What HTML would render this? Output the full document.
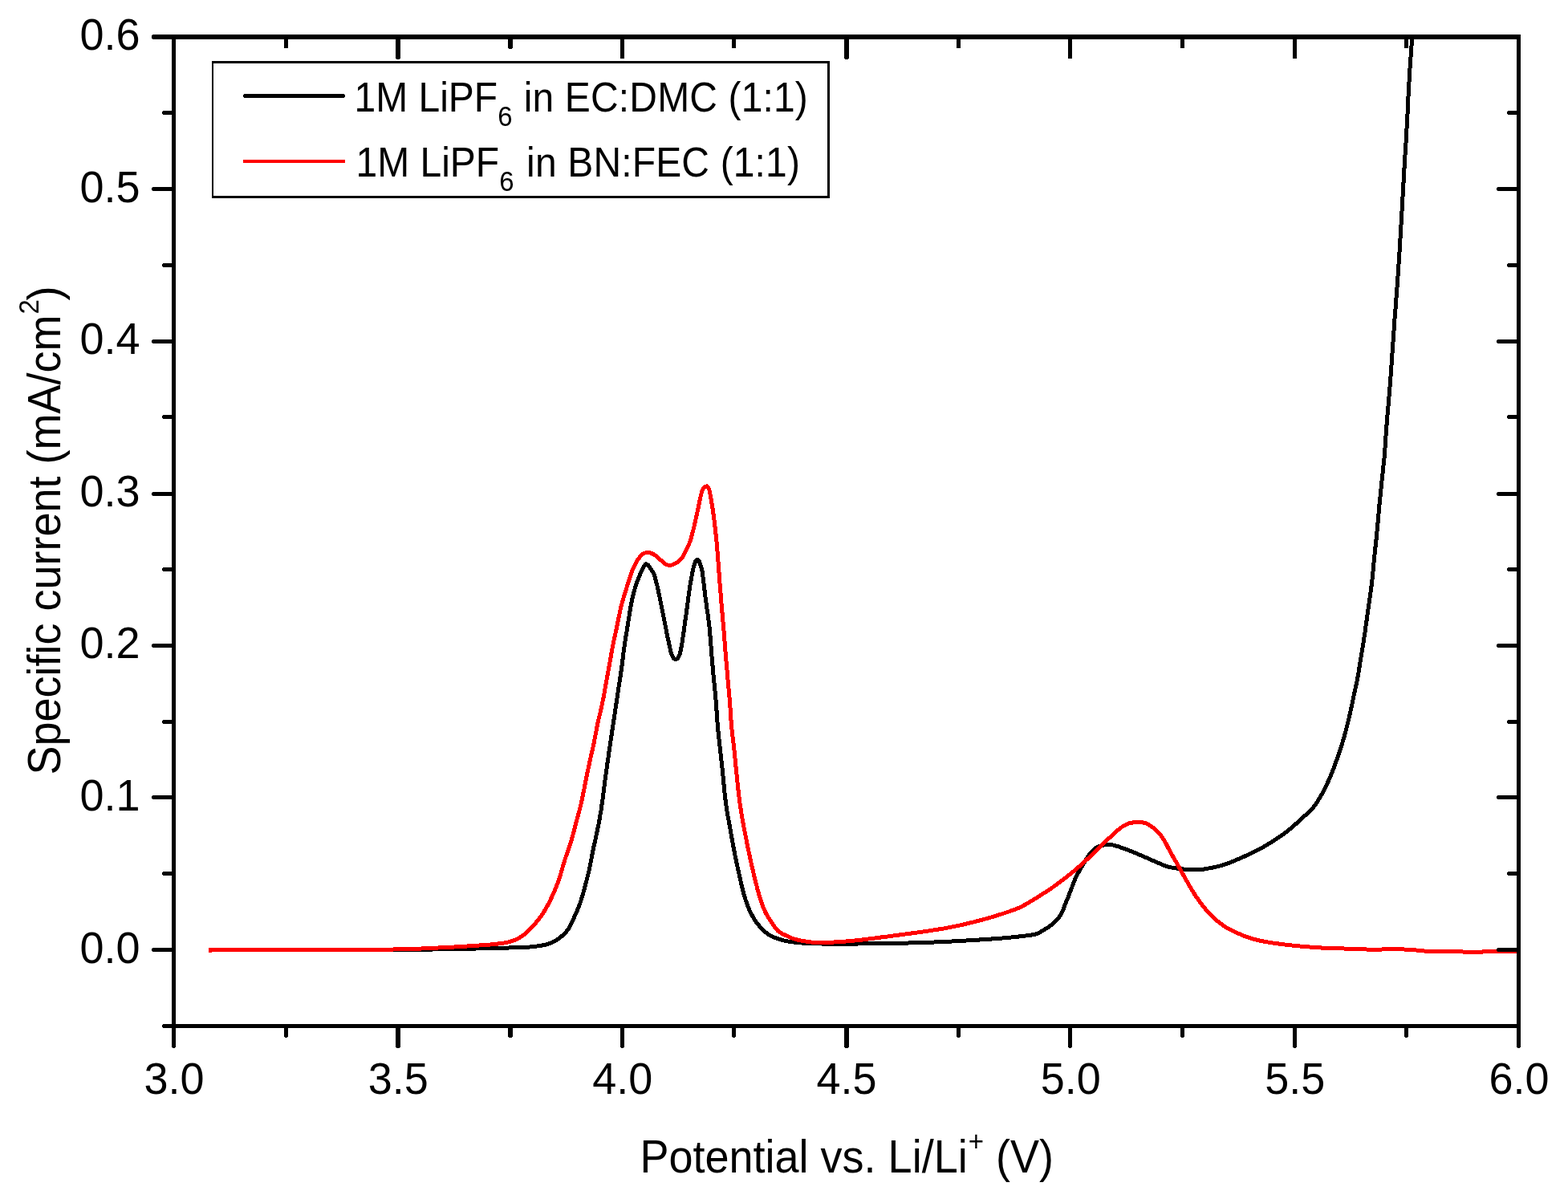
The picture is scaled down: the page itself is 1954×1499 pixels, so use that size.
<!DOCTYPE html>
<html lang="en">
<head>
<meta charset="utf-8">
<title>Specific current vs. potential</title>
<style>
html,body{margin:0;padding:0;background:#fff;}
body{width:1954px;height:1499px;overflow:hidden;}
svg{display:block;}
</style>
</head>
<body>
<svg width="1954" height="1499" viewBox="0 0 1954 1499">
<rect x="0" y="0" width="1954" height="1499" fill="#fff"/>
<clipPath id="plotclip"><rect x="216.5" y="46.0" width="1676.0" height="1232.5"/></clipPath>
<g clip-path="url(#plotclip)" fill="none" stroke-linejoin="round" stroke-linecap="butt" stroke-width="5.0" shape-rendering="crispEdges">
<path d="M260.0,1183.5C261.0,1183.5 264.3,1183.5 265.9,1183.5C267.5,1183.5 268.2,1183.5 269.5,1183.5C270.8,1183.5 272.2,1183.5 273.6,1183.5C275.0,1183.5 276.5,1183.5 278.0,1183.5C279.5,1183.5 281.0,1183.5 282.5,1183.5C284.0,1183.5 285.5,1183.5 287.0,1183.5C288.5,1183.5 290.0,1183.5 291.5,1183.5C293.0,1183.5 294.5,1183.5 296.0,1183.5C297.5,1183.5 299.0,1183.5 300.5,1183.5C302.0,1183.5 303.5,1183.5 305.0,1183.5C306.5,1183.5 308.0,1183.5 309.5,1183.5C311.0,1183.5 312.5,1183.5 314.0,1183.5C315.5,1183.5 317.0,1183.5 318.5,1183.5C320.0,1183.5 321.5,1183.5 323.0,1183.5C324.5,1183.5 326.0,1183.5 327.5,1183.5C329.0,1183.5 330.5,1183.5 332.0,1183.5C333.5,1183.5 335.0,1183.5 336.5,1183.5C338.0,1183.5 339.5,1183.5 341.0,1183.5C342.5,1183.5 344.0,1183.5 345.5,1183.5C347.0,1183.5 348.5,1183.5 350.0,1183.5C351.5,1183.5 353.0,1183.5 354.5,1183.5C356.0,1183.5 357.5,1183.5 359.0,1183.5C360.5,1183.5 362.0,1183.5 363.5,1183.5C365.0,1183.5 366.5,1183.5 368.0,1183.5C369.5,1183.5 371.0,1183.5 372.5,1183.5C374.0,1183.5 375.5,1183.5 377.0,1183.5C378.5,1183.5 380.0,1183.5 381.5,1183.5C383.0,1183.5 384.5,1183.5 386.0,1183.5C387.5,1183.5 389.0,1183.5 390.5,1183.5C392.0,1183.5 393.5,1183.5 395.0,1183.5C396.5,1183.5 398.0,1183.5 399.5,1183.5C401.0,1183.5 402.5,1183.5 404.0,1183.5C405.5,1183.5 407.0,1183.5 408.5,1183.5C410.0,1183.5 411.5,1183.5 413.0,1183.5C414.5,1183.5 416.0,1183.5 417.5,1183.5C419.0,1183.5 420.5,1183.5 422.0,1183.5C423.5,1183.5 425.0,1183.5 426.5,1183.5C428.0,1183.5 429.5,1183.5 431.0,1183.5C432.5,1183.5 434.0,1183.4 435.5,1183.4C437.0,1183.4 438.5,1183.4 440.0,1183.4C441.5,1183.4 443.0,1183.4 444.5,1183.4C446.0,1183.4 447.5,1183.4 449.0,1183.4C450.5,1183.4 452.0,1183.4 453.5,1183.4C455.0,1183.4 456.5,1183.4 458.0,1183.4C459.5,1183.4 461.0,1183.4 462.5,1183.4C464.0,1183.4 465.5,1183.4 467.0,1183.4C468.5,1183.4 470.0,1183.4 471.5,1183.4C473.0,1183.4 474.5,1183.4 476.0,1183.4C477.5,1183.4 479.0,1183.4 480.5,1183.4C482.0,1183.4 483.5,1183.4 485.0,1183.4C486.5,1183.4 488.0,1183.4 489.5,1183.4C491.0,1183.4 492.5,1183.4 494.0,1183.4C495.5,1183.4 497.0,1183.4 498.5,1183.4C500.0,1183.4 501.5,1183.4 503.0,1183.4C504.5,1183.4 506.0,1183.3 507.5,1183.3C509.0,1183.3 510.5,1183.3 512.0,1183.3C513.5,1183.3 515.0,1183.3 516.5,1183.3C518.0,1183.3 519.5,1183.2 521.0,1183.2C522.5,1183.2 524.0,1183.2 525.5,1183.2C527.0,1183.2 528.5,1183.1 530.0,1183.1C531.5,1183.1 533.0,1183.1 534.5,1183.1C536.0,1183.1 537.5,1183.0 539.0,1183.0C540.5,1183.0 542.0,1182.9 543.5,1182.9C545.0,1182.9 546.5,1182.9 548.0,1182.9C549.5,1182.9 551.0,1182.8 552.5,1182.8C554.0,1182.8 555.5,1182.7 557.0,1182.7C558.5,1182.7 560.0,1182.7 561.5,1182.7C563.0,1182.7 564.5,1182.6 566.0,1182.6C567.5,1182.6 569.0,1182.5 570.5,1182.5C572.0,1182.5 573.5,1182.4 575.0,1182.4C576.5,1182.4 578.0,1182.3 579.5,1182.3C581.0,1182.3 582.5,1182.2 584.0,1182.2C585.5,1182.2 587.0,1182.1 588.5,1182.1C590.0,1182.1 591.5,1182.0 593.0,1182.0C594.5,1182.0 596.0,1182.0 597.5,1181.9C599.0,1181.9 600.5,1181.8 602.0,1181.7C603.5,1181.7 605.0,1181.6 606.5,1181.6C608.0,1181.6 609.5,1181.5 611.0,1181.5C612.5,1181.5 614.0,1181.4 615.5,1181.4C617.0,1181.4 618.5,1181.3 620.0,1181.3C621.5,1181.3 623.0,1181.2 624.5,1181.2C626.0,1181.2 627.5,1181.1 629.0,1181.1C630.5,1181.1 632.0,1181.0 633.5,1181.0C635.0,1181.0 636.5,1180.9 638.0,1180.9C639.5,1180.9 641.0,1180.8 642.5,1180.8C644.0,1180.8 645.5,1180.6 647.0,1180.6C648.5,1180.5 650.0,1180.5 651.5,1180.5C653.0,1180.5 654.5,1180.4 656.0,1180.3C657.5,1180.2 659.0,1180.1 660.5,1180.0C662.0,1179.9 663.4,1179.8 664.9,1179.6C666.4,1179.4 667.9,1179.2 669.4,1179.0C670.9,1178.8 672.3,1178.5 673.8,1178.3C675.3,1178.0 676.8,1177.8 678.3,1177.5C679.8,1177.2 681.2,1176.8 682.6,1176.4C684.0,1176.0 685.5,1175.5 686.9,1174.9C688.3,1174.3 689.6,1173.7 690.9,1173.0C692.2,1172.3 693.5,1171.4 694.7,1170.6C696.0,1169.8 697.2,1168.9 698.4,1167.9C699.6,1167.0 700.6,1165.9 701.7,1164.9C702.8,1163.9 704.0,1162.8 705.0,1161.7C706.0,1160.6 706.9,1159.4 707.8,1158.2C708.6,1157.0 709.4,1155.8 710.1,1154.5C710.8,1153.2 711.5,1151.8 712.2,1150.5C712.9,1149.2 713.5,1147.8 714.1,1146.4C714.7,1145.0 715.3,1143.6 715.9,1142.2C716.5,1140.8 717.2,1139.5 717.8,1138.1C718.4,1136.7 718.9,1135.4 719.5,1134.0C720.1,1132.6 720.7,1131.2 721.2,1129.8C721.8,1128.4 722.3,1127.0 722.8,1125.6C723.3,1124.2 723.8,1122.7 724.2,1121.3C724.7,1119.9 725.1,1118.4 725.5,1117.0C725.9,1115.6 726.4,1114.1 726.8,1112.7C727.2,1111.3 727.6,1109.9 728.0,1108.4C728.4,1107.0 728.8,1105.5 729.2,1104.0C729.6,1102.5 729.9,1101.2 730.3,1099.7C730.7,1098.2 731.0,1096.8 731.4,1095.3C731.8,1093.8 732.1,1092.4 732.5,1090.9C732.9,1089.5 733.2,1088.0 733.6,1086.6C734.0,1085.1 734.3,1083.7 734.6,1082.2C734.9,1080.7 735.2,1079.3 735.5,1077.8C735.8,1076.3 736.0,1074.9 736.3,1073.4C736.6,1071.9 736.9,1070.4 737.2,1068.9C737.5,1067.4 737.7,1066.0 738.0,1064.5C738.3,1063.0 738.6,1061.6 738.9,1060.1C739.2,1058.6 739.5,1057.2 739.8,1055.7C740.1,1054.2 740.5,1052.8 740.8,1051.3C741.1,1049.8 741.5,1048.4 741.8,1046.9C742.1,1045.4 742.4,1044.0 742.7,1042.5C743.0,1041.0 743.4,1039.6 743.7,1038.1C744.0,1036.6 744.3,1035.2 744.6,1033.7C744.9,1032.2 745.2,1030.8 745.5,1029.3C745.8,1027.8 746.1,1026.4 746.4,1024.9C746.7,1023.4 747.0,1022.0 747.2,1020.5C747.5,1019.0 747.6,1017.5 747.9,1016.0C748.1,1014.5 748.5,1013.1 748.7,1011.6C749.0,1010.1 749.2,1008.6 749.4,1007.1C749.6,1005.6 749.8,1004.2 750.0,1002.7C750.2,1001.2 750.5,999.7 750.7,998.2C750.9,996.7 751.1,995.3 751.3,993.8C751.5,992.3 751.6,990.8 751.8,989.3C752.0,987.8 752.2,986.3 752.4,984.8C752.6,983.3 752.8,981.9 753.0,980.4C753.2,978.9 753.3,977.4 753.5,975.9C753.7,974.4 753.9,973.0 754.1,971.5C754.3,970.0 754.5,968.5 754.7,967.0C754.9,965.5 755.1,964.0 755.3,962.5C755.5,961.0 755.8,959.6 756.0,958.1C756.2,956.6 756.4,955.1 756.6,953.6C756.8,952.1 757.0,950.7 757.2,949.2C757.4,947.7 757.7,946.2 757.9,944.7C758.1,943.2 758.3,941.8 758.5,940.3C758.7,938.8 758.9,937.3 759.1,935.8C759.3,934.3 759.6,932.9 759.8,931.4C760.0,929.9 760.2,928.4 760.4,926.9C760.6,925.4 760.9,924.0 761.1,922.5C761.3,921.0 761.6,919.5 761.8,918.0C762.0,916.5 762.2,915.1 762.4,913.6C762.6,912.1 762.9,910.6 763.1,909.1C763.3,907.6 763.6,906.2 763.8,904.7C764.0,903.2 764.3,901.7 764.5,900.2C764.7,898.7 764.9,897.3 765.1,895.8C765.3,894.3 765.6,892.8 765.8,891.3C766.0,889.8 766.3,888.4 766.5,886.9C766.7,885.4 766.9,883.9 767.1,882.4C767.3,880.9 767.6,879.5 767.8,878.0C768.0,876.5 768.3,875.0 768.5,873.5C768.7,872.0 768.9,870.6 769.1,869.1C769.3,867.6 769.6,866.1 769.8,864.6C770.0,863.1 770.2,861.6 770.4,860.1C770.6,858.6 770.9,857.2 771.1,855.7C771.3,854.2 771.6,852.7 771.8,851.2C772.0,849.7 772.3,848.3 772.5,846.8C772.7,845.3 773.0,843.9 773.2,842.4C773.4,840.9 773.6,839.4 773.8,837.9C774.0,836.4 774.3,834.9 774.5,833.4C774.7,831.9 774.9,830.5 775.1,829.0C775.3,827.5 775.4,826.0 775.6,824.5C775.8,823.0 776.0,821.6 776.2,820.1C776.4,818.6 776.5,817.1 776.7,815.6C776.9,814.1 777.1,812.6 777.3,811.1C777.5,809.6 777.7,808.2 777.9,806.7C778.1,805.2 778.3,803.7 778.5,802.2C778.7,800.7 779.0,799.3 779.2,797.8C779.4,796.3 779.6,794.8 779.9,793.3C780.1,791.8 780.5,790.4 780.7,788.9C781.0,787.4 781.2,786.0 781.4,784.5C781.6,783.0 781.9,781.5 782.1,780.0C782.3,778.5 782.6,777.1 782.8,775.6C783.0,774.1 783.3,772.6 783.5,771.1C783.7,769.6 784.0,768.2 784.2,766.7C784.4,765.2 784.7,763.7 784.9,762.2C785.1,760.7 785.4,759.3 785.6,757.8C785.9,756.3 786.1,754.9 786.4,753.4C786.7,751.9 787.0,750.4 787.3,748.9C787.6,747.4 787.9,746.0 788.3,744.5C788.6,743.0 789.0,741.7 789.4,740.2C789.8,738.8 790.1,737.2 790.5,735.8C790.9,734.3 791.4,732.9 791.8,731.5C792.2,730.1 792.6,728.6 793.1,727.2C793.6,725.8 794.2,724.4 794.7,723.0C795.2,721.6 795.7,720.3 796.3,718.9C796.9,717.5 797.5,716.1 798.1,714.7C798.7,713.3 799.4,712.0 800.0,710.6C800.6,709.2 801.2,707.9 802.0,706.6C802.8,705.3 803.6,703.3 804.6,702.9C805.6,702.5 806.8,703.4 807.8,704.2C808.8,705.1 809.4,706.8 810.3,708.0C811.1,709.2 812.1,710.4 812.9,711.7C813.7,713.0 814.3,714.2 814.9,715.6C815.5,717.0 816.0,718.5 816.4,719.9C816.8,721.3 817.1,722.8 817.5,724.3C817.9,725.8 818.2,727.1 818.6,728.6C819.0,730.1 819.4,731.5 819.7,733.0C820.0,734.5 820.3,735.9 820.6,737.4C820.9,738.9 821.3,740.3 821.6,741.8C821.9,743.3 822.2,744.7 822.5,746.2C822.8,747.7 823.0,749.1 823.3,750.6C823.6,752.1 823.9,753.5 824.2,755.0C824.5,756.5 824.8,758.0 825.1,759.5C825.4,761.0 825.7,762.4 826.0,763.9C826.3,765.4 826.6,766.8 826.9,768.3C827.2,769.8 827.4,771.2 827.7,772.7C828.0,774.2 828.3,775.6 828.6,777.1C828.9,778.6 829.2,780.0 829.5,781.5C829.8,783.0 830.1,784.4 830.4,785.9C830.7,787.4 830.9,788.9 831.2,790.4C831.5,791.9 831.8,793.3 832.1,794.8C832.4,796.3 832.8,797.7 833.1,799.2C833.4,800.7 833.7,802.1 834.0,803.6C834.3,805.1 834.7,806.5 835.0,808.0C835.3,809.5 835.6,811.0 836.0,812.4C836.4,813.8 836.9,815.2 837.5,816.6C838.1,818.0 838.8,819.7 839.8,820.5C840.8,821.3 842.2,821.8 843.3,821.3C844.3,820.8 845.4,819.1 846.1,817.8C846.8,816.5 847.2,815.0 847.6,813.5C848.0,812.0 848.3,810.6 848.6,809.1C848.9,807.6 849.0,806.2 849.3,804.7C849.5,803.2 849.9,801.7 850.1,800.2C850.4,798.7 850.6,797.3 850.8,795.8C851.0,794.3 851.2,792.8 851.4,791.3C851.6,789.8 851.9,788.4 852.1,786.9C852.3,785.4 852.5,783.9 852.7,782.4C852.9,780.9 853.1,779.5 853.3,778.0C853.5,776.5 853.7,775.0 853.9,773.5C854.1,772.0 854.3,770.5 854.5,769.0C854.7,767.5 855.0,766.1 855.2,764.6C855.4,763.1 855.6,761.6 855.8,760.1C856.0,758.6 856.2,757.2 856.4,755.7C856.6,754.2 856.8,752.7 857.0,751.2C857.2,749.7 857.4,748.2 857.6,746.7C857.8,745.2 857.9,743.8 858.1,742.3C858.3,740.8 858.5,739.3 858.7,737.8C858.9,736.3 859.2,734.9 859.4,733.4C859.6,731.9 859.8,730.4 860.0,728.9C860.2,727.4 860.5,726.0 860.8,724.5C861.1,723.0 861.3,721.6 861.6,720.1C861.9,718.6 862.1,717.2 862.4,715.7C862.7,714.2 863.0,712.8 863.3,711.3C863.6,709.8 863.9,708.4 864.3,706.9C864.7,705.4 865.1,703.9 865.6,702.5C866.1,701.1 866.6,699.1 867.4,698.4C868.2,697.7 869.7,697.5 870.5,698.1C871.3,698.8 871.8,700.9 872.3,702.3C872.8,703.7 873.4,705.1 873.8,706.5C874.2,707.9 874.6,709.4 874.9,710.9C875.2,712.4 875.4,713.8 875.6,715.3C875.8,716.8 875.9,718.3 876.1,719.8C876.3,721.3 876.4,722.7 876.6,724.2C876.8,725.7 877.0,727.2 877.2,728.7C877.4,730.2 877.5,731.7 877.7,733.2C877.9,734.7 878.1,736.1 878.3,737.6C878.5,739.1 878.6,740.6 878.8,742.1C879.0,743.6 879.2,745.1 879.4,746.6C879.6,748.1 879.8,749.5 880.0,751.0C880.2,752.5 880.4,754.0 880.6,755.5C880.8,757.0 881.0,758.5 881.2,760.0C881.4,761.5 881.7,762.9 881.9,764.4C882.1,765.9 882.3,767.4 882.5,768.9C882.7,770.4 882.9,771.8 883.1,773.3C883.3,774.8 883.4,776.3 883.6,777.8C883.8,779.3 884.0,780.8 884.1,782.3C884.2,783.8 884.4,785.2 884.5,786.7C884.6,788.2 884.8,789.7 884.9,791.2C885.0,792.7 885.2,794.2 885.3,795.7C885.4,797.2 885.5,798.7 885.6,800.2C885.7,801.7 885.9,803.2 886.0,804.7C886.1,806.2 886.2,807.7 886.3,809.2C886.4,810.7 886.6,812.2 886.7,813.7C886.8,815.2 886.9,816.6 887.0,818.1C887.1,819.6 887.3,821.1 887.4,822.6C887.5,824.1 887.7,825.6 887.8,827.1C887.9,828.6 888.1,830.1 888.2,831.6C888.3,833.1 888.5,834.6 888.6,836.1C888.7,837.6 888.9,839.1 889.0,840.6C889.1,842.1 889.4,843.5 889.5,845.0C889.6,846.5 889.8,848.0 889.9,849.5C890.0,851.0 890.2,852.5 890.4,854.0C890.5,855.5 890.7,857.0 890.8,858.5C890.9,860.0 891.1,861.4 891.2,862.9C891.3,864.4 891.5,865.9 891.6,867.4C891.7,868.9 891.9,870.4 892.0,871.9C892.1,873.4 892.3,874.9 892.4,876.4C892.5,877.9 892.6,879.4 892.7,880.9C892.8,882.4 892.9,883.9 893.0,885.4C893.1,886.9 893.2,888.4 893.3,889.9C893.4,891.4 893.5,892.9 893.6,894.4C893.7,895.9 893.8,897.3 893.9,898.8C894.0,900.3 894.2,901.8 894.3,903.3C894.4,904.8 894.5,906.3 894.6,907.8C894.7,909.3 895.0,910.8 895.1,912.3C895.2,913.8 895.4,915.3 895.5,916.8C895.6,918.3 895.8,919.7 896.0,921.2C896.2,922.7 896.3,924.2 896.5,925.7C896.7,927.2 896.8,928.7 897.0,930.2C897.2,931.7 897.3,933.2 897.5,934.7C897.7,936.2 897.8,937.6 898.0,939.1C898.2,940.6 898.3,942.1 898.5,943.6C898.7,945.1 898.8,946.6 899.0,948.1C899.2,949.6 899.3,951.0 899.5,952.5C899.7,954.0 899.9,955.5 900.0,957.0C900.1,958.5 900.2,960.0 900.4,961.5C900.5,963.0 900.8,964.5 900.9,966.0C901.0,967.5 901.2,969.0 901.3,970.5C901.4,972.0 901.6,973.4 901.7,974.9C901.9,976.4 902.1,977.9 902.2,979.4C902.4,980.9 902.5,982.4 902.6,983.9C902.8,985.4 902.9,986.9 903.1,988.4C903.3,989.9 903.4,991.3 903.6,992.8C903.8,994.3 903.9,995.8 904.1,997.3C904.3,998.8 904.5,1000.3 904.7,1001.8C904.9,1003.3 905.1,1004.7 905.3,1006.2C905.5,1007.7 905.8,1009.2 906.0,1010.7C906.2,1012.2 906.5,1013.6 906.8,1015.1C907.0,1016.6 907.2,1018.0 907.5,1019.5C907.8,1021.0 908.1,1022.5 908.4,1024.0C908.7,1025.5 908.9,1026.9 909.2,1028.4C909.5,1029.9 909.8,1031.3 910.0,1032.8C910.2,1034.3 910.5,1035.8 910.7,1037.3C911.0,1038.8 911.2,1040.2 911.5,1041.7C911.8,1043.2 912.0,1044.6 912.3,1046.1C912.6,1047.6 912.8,1049.0 913.1,1050.5C913.4,1052.0 913.6,1053.5 913.9,1055.0C914.2,1056.5 914.5,1057.9 914.8,1059.4C915.1,1060.9 915.3,1062.3 915.6,1063.8C915.9,1065.3 916.2,1066.7 916.5,1068.2C916.8,1069.7 917.1,1071.1 917.4,1072.6C917.7,1074.1 918.0,1075.5 918.3,1077.0C918.6,1078.5 919.0,1079.9 919.3,1081.4C919.6,1082.9 920.0,1084.3 920.3,1085.8C920.6,1087.3 920.9,1088.7 921.2,1090.2C921.5,1091.7 921.9,1093.1 922.2,1094.6C922.5,1096.1 922.9,1097.5 923.2,1099.0C923.5,1100.5 923.9,1101.9 924.2,1103.4C924.6,1104.9 924.9,1106.3 925.3,1107.8C925.7,1109.2 926.0,1110.7 926.4,1112.1C926.8,1113.5 927.2,1115.0 927.6,1116.4C928.0,1117.8 928.4,1119.3 928.9,1120.7C929.4,1122.1 929.9,1123.6 930.4,1125.0C930.9,1126.4 931.5,1127.8 932.0,1129.2C932.5,1130.6 933.1,1132.0 933.7,1133.4C934.3,1134.8 934.9,1136.1 935.6,1137.4C936.3,1138.7 937.0,1140.1 937.7,1141.4C938.4,1142.7 939.2,1144.0 940.0,1145.3C940.8,1146.6 941.6,1147.8 942.5,1149.0C943.4,1150.2 944.3,1151.4 945.2,1152.6C946.1,1153.8 947.1,1155.0 948.1,1156.1C949.1,1157.2 950.2,1158.3 951.3,1159.3C952.4,1160.3 953.5,1161.3 954.7,1162.2C955.9,1163.1 957.1,1164.0 958.4,1164.8C959.7,1165.6 960.9,1166.3 962.3,1167.0C963.6,1167.7 965.1,1168.2 966.5,1168.7C967.9,1169.2 969.3,1169.7 970.7,1170.2C972.1,1170.7 973.5,1171.1 975.0,1171.5C976.5,1171.9 977.9,1172.2 979.4,1172.5C980.9,1172.8 982.3,1173.1 983.8,1173.3C985.3,1173.5 986.8,1173.7 988.3,1173.9C989.8,1174.1 991.3,1174.2 992.8,1174.4C994.3,1174.6 995.7,1174.8 997.2,1174.9C998.7,1175.0 1000.2,1175.1 1001.7,1175.2C1003.2,1175.3 1004.7,1175.4 1006.2,1175.5C1007.7,1175.6 1009.2,1175.7 1010.7,1175.7C1012.2,1175.8 1013.7,1175.8 1015.2,1175.8C1016.7,1175.8 1018.2,1175.9 1019.7,1175.9C1021.2,1175.9 1022.7,1176.0 1024.2,1176.0C1025.7,1176.0 1027.2,1176.0 1028.7,1176.0C1030.2,1176.0 1031.7,1176.0 1033.2,1176.0C1034.7,1176.0 1036.2,1176.0 1037.7,1176.0C1039.2,1176.0 1040.7,1176.0 1042.2,1176.0C1043.7,1176.0 1045.2,1176.0 1046.7,1176.0C1048.2,1176.0 1049.7,1176.0 1051.2,1176.0C1052.7,1176.0 1054.2,1176.0 1055.7,1176.0C1057.2,1176.0 1058.7,1176.0 1060.2,1176.0C1061.7,1176.0 1063.2,1176.0 1064.7,1176.0C1066.2,1176.0 1067.7,1176.0 1069.2,1176.0C1070.7,1176.0 1072.2,1175.9 1073.7,1175.9C1075.2,1175.9 1076.7,1175.9 1078.2,1175.9C1079.7,1175.9 1081.2,1175.8 1082.7,1175.8C1084.2,1175.8 1085.7,1175.8 1087.2,1175.8C1088.7,1175.8 1090.2,1175.7 1091.7,1175.7C1093.2,1175.7 1094.7,1175.7 1096.2,1175.7C1097.7,1175.7 1099.2,1175.6 1100.7,1175.6C1102.2,1175.6 1103.7,1175.5 1105.2,1175.5C1106.7,1175.5 1108.2,1175.4 1109.7,1175.4C1111.2,1175.4 1112.7,1175.4 1114.2,1175.4C1115.7,1175.4 1117.2,1175.3 1118.7,1175.3C1120.2,1175.3 1121.7,1175.2 1123.2,1175.2C1124.7,1175.2 1126.2,1175.1 1127.7,1175.1C1129.2,1175.1 1130.7,1175.0 1132.2,1175.0C1133.7,1175.0 1135.2,1175.0 1136.7,1174.9C1138.2,1174.9 1139.7,1174.8 1141.2,1174.7C1142.7,1174.7 1144.2,1174.6 1145.7,1174.6C1147.2,1174.6 1148.7,1174.5 1150.2,1174.5C1151.7,1174.5 1153.2,1174.3 1154.7,1174.3C1156.2,1174.2 1157.7,1174.2 1159.2,1174.2C1160.7,1174.2 1162.2,1174.1 1163.7,1174.0C1165.2,1173.9 1166.7,1173.9 1168.2,1173.8C1169.7,1173.7 1171.2,1173.7 1172.7,1173.6C1174.2,1173.5 1175.7,1173.5 1177.2,1173.4C1178.7,1173.3 1180.2,1173.3 1181.7,1173.2C1183.2,1173.1 1184.7,1173.1 1186.2,1173.0C1187.7,1172.9 1189.2,1172.9 1190.7,1172.8C1192.2,1172.7 1193.7,1172.6 1195.2,1172.5C1196.7,1172.4 1198.2,1172.4 1199.7,1172.3C1201.2,1172.2 1202.6,1172.1 1204.1,1172.0C1205.6,1171.9 1207.1,1171.9 1208.6,1171.8C1210.1,1171.7 1211.6,1171.6 1213.1,1171.5C1214.6,1171.4 1216.1,1171.3 1217.6,1171.2C1219.1,1171.1 1220.6,1171.0 1222.1,1170.9C1223.6,1170.8 1225.1,1170.8 1226.6,1170.7C1228.1,1170.6 1229.6,1170.5 1231.1,1170.4C1232.6,1170.3 1234.1,1170.1 1235.6,1170.0C1237.1,1169.9 1238.6,1169.8 1240.1,1169.7C1241.6,1169.6 1243.1,1169.5 1244.6,1169.4C1246.1,1169.3 1247.5,1169.1 1249.0,1169.0C1250.5,1168.9 1252.0,1168.7 1253.5,1168.6C1255.0,1168.5 1256.5,1168.3 1258.0,1168.2C1259.5,1168.1 1261.0,1168.0 1262.5,1167.8C1264.0,1167.6 1265.5,1167.5 1267.0,1167.3C1268.5,1167.1 1269.9,1167.0 1271.4,1166.8C1272.9,1166.6 1274.4,1166.5 1275.9,1166.3C1277.4,1166.1 1278.9,1165.9 1280.4,1165.7C1281.9,1165.5 1283.4,1165.3 1284.9,1165.1C1286.4,1164.9 1287.9,1164.7 1289.3,1164.3C1290.7,1163.9 1292.1,1163.5 1293.5,1162.9C1294.9,1162.3 1296.2,1161.4 1297.5,1160.7C1298.8,1160.0 1300.1,1159.3 1301.4,1158.5C1302.7,1157.7 1304.0,1156.9 1305.2,1156.1C1306.5,1155.3 1307.7,1154.4 1308.9,1153.5C1310.1,1152.6 1311.2,1151.7 1312.3,1150.7C1313.4,1149.7 1314.5,1148.6 1315.6,1147.5C1316.6,1146.4 1317.6,1145.4 1318.6,1144.2C1319.6,1143.0 1320.6,1141.8 1321.4,1140.6C1322.2,1139.3 1322.9,1138.0 1323.5,1136.7C1324.1,1135.4 1324.7,1134.0 1325.2,1132.6C1325.8,1131.2 1326.2,1129.7 1326.8,1128.3C1327.3,1126.9 1327.9,1125.6 1328.5,1124.2C1329.1,1122.8 1329.6,1121.4 1330.2,1120.0C1330.8,1118.6 1331.4,1117.2 1331.9,1115.8C1332.5,1114.4 1333.0,1113.0 1333.5,1111.6C1334.0,1110.2 1334.6,1108.8 1335.1,1107.4C1335.6,1106.0 1336.2,1104.6 1336.7,1103.2C1337.2,1101.8 1337.8,1100.4 1338.3,1099.0C1338.8,1097.6 1339.4,1096.2 1340.0,1094.8C1340.6,1093.4 1341.3,1092.1 1342.0,1090.8C1342.7,1089.5 1343.4,1088.1 1344.1,1086.8C1344.8,1085.5 1345.5,1084.2 1346.3,1082.9C1347.0,1081.6 1347.8,1080.3 1348.6,1079.0C1349.4,1077.7 1350.1,1076.4 1350.9,1075.1C1351.7,1073.8 1352.5,1072.5 1353.3,1071.3C1354.1,1070.0 1354.9,1068.8 1355.7,1067.6C1356.5,1066.3 1357.4,1065.0 1358.3,1063.8C1359.2,1062.6 1360.2,1061.5 1361.2,1060.4C1362.2,1059.3 1363.3,1058.3 1364.5,1057.4C1365.7,1056.5 1367.0,1055.7 1368.4,1055.1C1369.8,1054.5 1371.2,1054.0 1372.7,1053.6C1374.2,1053.2 1375.6,1053.1 1377.1,1052.9C1378.6,1052.7 1380.1,1052.5 1381.6,1052.5C1383.1,1052.5 1384.5,1052.6 1386.0,1052.8C1387.5,1053.0 1389.0,1053.5 1390.4,1053.9C1391.9,1054.3 1393.3,1054.7 1394.7,1055.2C1396.1,1055.7 1397.6,1056.3 1399.0,1056.8C1400.4,1057.3 1401.8,1057.8 1403.2,1058.3C1404.6,1058.8 1406.0,1059.4 1407.4,1059.9C1408.8,1060.5 1410.2,1061.0 1411.6,1061.6C1413.0,1062.2 1414.4,1062.7 1415.8,1063.3C1417.2,1063.9 1418.5,1064.4 1419.9,1065.0C1421.3,1065.6 1422.6,1066.2 1424.0,1066.8C1425.4,1067.4 1426.8,1068.0 1428.2,1068.6C1429.6,1069.2 1430.9,1069.8 1432.3,1070.4C1433.7,1071.0 1435.0,1071.6 1436.4,1072.2C1437.8,1072.8 1439.1,1073.4 1440.5,1074.0C1441.9,1074.6 1443.3,1075.2 1444.7,1075.8C1446.1,1076.4 1447.4,1077.0 1448.8,1077.6C1450.2,1078.2 1451.6,1078.8 1453.0,1079.3C1454.4,1079.8 1455.8,1080.2 1457.3,1080.5C1458.8,1080.8 1460.2,1081.0 1461.7,1081.3C1463.2,1081.5 1464.7,1081.8 1466.2,1082.0C1467.7,1082.2 1469.1,1082.4 1470.6,1082.6C1472.1,1082.8 1473.6,1082.9 1475.1,1083.0C1476.6,1083.1 1478.1,1083.3 1479.6,1083.4C1481.1,1083.5 1482.6,1083.5 1484.1,1083.6C1485.6,1083.6 1487.1,1083.7 1488.6,1083.7C1490.1,1083.7 1491.6,1083.7 1493.1,1083.7C1494.6,1083.7 1496.0,1083.7 1497.5,1083.5C1499.0,1083.3 1500.5,1083.0 1502.0,1082.7C1503.5,1082.4 1504.9,1082.2 1506.4,1081.9C1507.9,1081.6 1509.3,1081.4 1510.8,1081.1C1512.3,1080.8 1513.7,1080.5 1515.2,1080.2C1516.7,1079.9 1518.1,1079.5 1519.6,1079.1C1521.0,1078.7 1522.5,1078.2 1523.9,1077.8C1525.3,1077.3 1526.8,1076.9 1528.2,1076.4C1529.6,1075.9 1531.0,1075.4 1532.4,1074.9C1533.8,1074.4 1535.2,1073.8 1536.6,1073.2C1538.0,1072.6 1539.3,1072.1 1540.7,1071.5C1542.1,1070.9 1543.5,1070.4 1544.9,1069.8C1546.3,1069.2 1547.6,1068.5 1549.0,1067.9C1550.4,1067.3 1551.7,1066.7 1553.1,1066.1C1554.5,1065.5 1555.8,1064.8 1557.2,1064.1C1558.6,1063.4 1559.9,1062.8 1561.2,1062.2C1562.5,1061.6 1564.0,1060.9 1565.3,1060.2C1566.6,1059.5 1567.9,1058.8 1569.2,1058.1C1570.5,1057.4 1571.9,1056.7 1573.2,1056.0C1574.5,1055.3 1575.8,1054.5 1577.1,1053.8C1578.4,1053.0 1579.7,1052.3 1581.0,1051.5C1582.3,1050.7 1583.5,1049.9 1584.8,1049.1C1586.1,1048.3 1587.3,1047.5 1588.6,1046.7C1589.9,1045.9 1591.2,1045.0 1592.4,1044.2C1593.7,1043.4 1594.9,1042.6 1596.1,1041.7C1597.3,1040.8 1598.5,1040.0 1599.7,1039.1C1600.9,1038.2 1602.1,1037.3 1603.3,1036.4C1604.5,1035.5 1605.6,1034.5 1606.8,1033.6C1608.0,1032.6 1609.1,1031.7 1610.3,1030.7C1611.5,1029.7 1612.6,1028.7 1613.7,1027.7C1614.8,1026.7 1615.9,1025.7 1617.0,1024.7C1618.1,1023.7 1619.3,1022.7 1620.4,1021.7C1621.5,1020.7 1622.6,1019.6 1623.7,1018.6C1624.8,1017.6 1625.9,1016.6 1627.0,1015.6C1628.1,1014.6 1629.2,1013.6 1630.3,1012.6C1631.4,1011.6 1632.5,1010.6 1633.6,1009.5C1634.6,1008.4 1635.6,1007.4 1636.6,1006.2C1637.5,1005.0 1638.4,1003.7 1639.3,1002.5C1640.2,1001.3 1641.0,1000.0 1641.8,998.8C1642.6,997.5 1643.3,996.3 1644.1,995.0C1644.9,993.7 1645.7,992.4 1646.4,991.1C1647.2,989.8 1647.9,988.5 1648.6,987.2C1649.3,985.9 1649.9,984.6 1650.6,983.2C1651.3,981.9 1651.9,980.5 1652.6,979.1C1653.2,977.8 1653.9,976.5 1654.5,975.1C1655.1,973.8 1655.8,972.4 1656.4,971.0C1657.0,969.6 1657.5,968.2 1658.1,966.8C1658.7,965.4 1659.2,964.1 1659.8,962.7C1660.4,961.3 1661.0,959.9 1661.5,958.5C1662.0,957.1 1662.6,955.7 1663.1,954.3C1663.6,952.9 1664.1,951.4 1664.6,950.0C1665.1,948.6 1665.7,947.2 1666.2,945.8C1666.7,944.4 1667.1,943.0 1667.6,941.6C1668.1,940.2 1668.6,938.7 1669.1,937.3C1669.6,935.9 1670.0,934.4 1670.5,933.0C1671.0,931.6 1671.5,930.1 1671.9,928.7C1672.4,927.3 1672.8,925.8 1673.2,924.4C1673.6,923.0 1674.1,921.5 1674.5,920.1C1674.9,918.7 1675.3,917.2 1675.7,915.8C1676.1,914.3 1676.5,912.8 1676.9,911.4C1677.3,910.0 1677.6,908.5 1678.0,907.1C1678.4,905.7 1678.7,904.2 1679.1,902.7C1679.5,901.2 1679.8,899.9 1680.2,898.4C1680.6,896.9 1680.9,895.5 1681.2,894.0C1681.5,892.5 1681.9,891.1 1682.2,889.6C1682.5,888.1 1682.9,886.7 1683.2,885.2C1683.5,883.7 1683.8,882.3 1684.1,880.8C1684.4,879.3 1684.8,877.9 1685.1,876.4C1685.4,874.9 1685.7,873.5 1686.0,872.0C1686.3,870.5 1686.6,869.1 1686.9,867.6C1687.2,866.1 1687.6,864.7 1687.9,863.2C1688.2,861.7 1688.6,860.3 1688.9,858.8C1689.2,857.3 1689.5,855.9 1689.8,854.4C1690.1,852.9 1690.5,851.5 1690.8,850.0C1691.1,848.5 1691.3,847.1 1691.6,845.6C1691.9,844.1 1692.1,842.7 1692.4,841.2C1692.7,839.7 1693.0,838.2 1693.2,836.7C1693.5,835.2 1693.7,833.8 1693.9,832.3C1694.1,830.8 1694.4,829.3 1694.6,827.8C1694.8,826.3 1695.1,824.9 1695.3,823.4C1695.5,821.9 1695.8,820.5 1696.0,819.0C1696.2,817.5 1696.5,816.0 1696.8,814.5C1697.0,813.0 1697.3,811.6 1697.5,810.1C1697.7,808.6 1698.0,807.1 1698.2,805.6C1698.5,804.1 1698.8,802.7 1699.0,801.2C1699.2,799.7 1699.4,798.3 1699.6,796.8C1699.8,795.3 1700.1,793.8 1700.3,792.3C1700.5,790.8 1700.8,789.4 1701.0,787.9C1701.2,786.4 1701.4,784.9 1701.6,783.4C1701.8,781.9 1702.0,780.4 1702.2,778.9C1702.4,777.4 1702.7,776.0 1702.9,774.5C1703.1,773.0 1703.3,771.5 1703.5,770.0C1703.7,768.5 1703.9,767.1 1704.1,765.6C1704.3,764.1 1704.5,762.6 1704.7,761.1C1704.9,759.6 1705.2,758.2 1705.4,756.7C1705.6,755.2 1705.8,753.7 1706.0,752.2C1706.2,750.7 1706.4,749.3 1706.6,747.8C1706.8,746.3 1707.0,744.8 1707.2,743.3C1707.4,741.8 1707.7,740.3 1707.9,738.8C1708.1,737.3 1708.3,735.9 1708.5,734.4C1708.7,732.9 1708.9,731.4 1709.1,729.9C1709.3,728.4 1709.4,727.0 1709.6,725.5C1709.8,724.0 1709.9,722.5 1710.1,721.0C1710.3,719.5 1710.4,718.0 1710.6,716.5C1710.8,715.0 1710.9,713.5 1711.0,712.0C1711.1,710.5 1711.3,709.1 1711.4,707.6C1711.5,706.1 1711.7,704.6 1711.8,703.1C1711.9,701.6 1712.1,700.1 1712.3,698.6C1712.5,697.1 1712.5,695.6 1712.7,694.1C1712.9,692.6 1713.0,691.1 1713.2,689.6C1713.4,688.1 1713.6,686.7 1713.7,685.2C1713.8,683.7 1713.9,682.2 1714.1,680.7C1714.2,679.2 1714.4,677.7 1714.6,676.2C1714.8,674.7 1714.9,673.2 1715.1,671.7C1715.2,670.2 1715.4,668.8 1715.5,667.3C1715.6,665.8 1715.8,664.3 1715.9,662.8C1716.1,661.3 1716.2,659.8 1716.4,658.3C1716.6,656.8 1716.7,655.3 1716.8,653.8C1716.9,652.3 1717.1,650.8 1717.2,649.3C1717.3,647.8 1717.5,646.4 1717.6,644.9C1717.7,643.4 1717.9,641.9 1718.0,640.4C1718.1,638.9 1718.3,637.4 1718.4,635.9C1718.5,634.4 1718.7,632.9 1718.8,631.4C1718.9,629.9 1719.0,628.4 1719.2,626.9C1719.4,625.4 1719.6,624.0 1719.7,622.5C1719.8,621.0 1720.0,619.5 1720.1,618.0C1720.2,616.5 1720.3,615.0 1720.5,613.5C1720.7,612.0 1720.8,610.5 1721.0,609.0C1721.2,607.5 1721.2,606.0 1721.4,604.5C1721.6,603.0 1721.7,601.6 1721.9,600.1C1722.1,598.6 1722.2,597.1 1722.4,595.6C1722.6,594.1 1722.7,592.6 1722.9,591.1C1723.1,589.6 1723.2,588.1 1723.4,586.6C1723.6,585.1 1723.7,583.7 1723.8,582.2C1723.9,580.7 1724.1,579.2 1724.3,577.7C1724.5,576.2 1724.5,574.7 1724.7,573.2C1724.9,571.7 1725.1,570.2 1725.2,568.7C1725.3,567.2 1725.4,565.7 1725.5,564.2C1725.6,562.7 1725.8,561.3 1725.9,559.8C1726.0,558.3 1726.1,556.8 1726.2,555.3C1726.3,553.8 1726.4,552.3 1726.5,550.8C1726.6,549.3 1726.7,547.8 1726.8,546.3C1726.9,544.8 1727.0,543.3 1727.1,541.8C1727.2,540.3 1727.3,538.8 1727.4,537.3C1727.5,535.8 1727.7,534.3 1727.8,532.8C1727.9,531.3 1728.0,529.8 1728.1,528.3C1728.2,526.8 1728.4,525.4 1728.5,523.9C1728.6,522.4 1728.7,520.9 1728.8,519.4C1728.9,517.9 1729.1,516.4 1729.2,514.9C1729.3,513.4 1729.5,511.9 1729.6,510.4C1729.7,508.9 1729.9,507.4 1730.0,505.9C1730.1,504.4 1730.3,502.9 1730.4,501.4C1730.5,499.9 1730.7,498.5 1730.8,497.0C1730.9,495.5 1731.0,494.0 1731.1,492.5C1731.2,491.0 1731.4,489.5 1731.5,488.0C1731.6,486.5 1731.8,485.0 1731.9,483.5C1732.0,482.0 1732.1,480.5 1732.2,479.0C1732.3,477.5 1732.5,476.0 1732.6,474.5C1732.7,473.0 1732.8,471.5 1732.9,470.0C1733.0,468.5 1733.2,467.1 1733.3,465.6C1733.4,464.1 1733.5,462.6 1733.6,461.1C1733.7,459.6 1733.8,458.1 1733.9,456.6C1734.0,455.1 1734.1,453.6 1734.2,452.1C1734.3,450.6 1734.4,449.1 1734.5,447.6C1734.6,446.1 1734.7,444.6 1734.8,443.1C1734.9,441.6 1735.0,440.1 1735.1,438.6C1735.2,437.1 1735.3,435.6 1735.4,434.1C1735.5,432.6 1735.7,431.1 1735.8,429.6C1735.9,428.1 1736.0,426.6 1736.1,425.1C1736.2,423.6 1736.3,422.2 1736.4,420.7C1736.5,419.2 1736.6,417.7 1736.7,416.2C1736.8,414.7 1736.9,413.2 1737.0,411.7C1737.1,410.2 1737.2,408.7 1737.3,407.2C1737.4,405.7 1737.5,404.2 1737.6,402.7C1737.7,401.2 1737.8,399.7 1737.9,398.2C1738.0,396.7 1738.2,395.2 1738.3,393.7C1738.4,392.2 1738.5,390.7 1738.6,389.2C1738.7,387.7 1738.9,386.3 1739.0,384.8C1739.1,383.3 1739.2,381.8 1739.3,380.3C1739.4,378.8 1739.6,377.3 1739.7,375.8C1739.8,374.3 1739.9,372.8 1740.0,371.3C1740.1,369.8 1740.3,368.3 1740.4,366.8C1740.5,365.3 1740.6,363.8 1740.7,362.3C1740.8,360.8 1740.9,359.3 1741.0,357.8C1741.1,356.3 1741.3,354.8 1741.4,353.3C1741.5,351.8 1741.6,350.4 1741.7,348.9C1741.8,347.4 1741.9,345.9 1742.0,344.4C1742.1,342.9 1742.2,341.4 1742.3,339.9C1742.4,338.4 1742.5,336.9 1742.6,335.4C1742.7,333.9 1742.8,332.4 1742.9,330.9C1743.0,329.4 1743.1,327.9 1743.2,326.4C1743.3,324.9 1743.4,323.4 1743.5,321.9C1743.6,320.4 1743.7,318.9 1743.8,317.4C1743.9,315.9 1744.0,314.4 1744.1,312.9C1744.2,311.4 1744.2,309.9 1744.3,308.4C1744.4,306.9 1744.5,305.5 1744.6,304.0C1744.7,302.5 1744.8,301.0 1744.9,299.5C1745.0,298.0 1745.0,296.5 1745.1,295.0C1745.2,293.5 1745.3,292.0 1745.4,290.5C1745.5,289.0 1745.6,287.5 1745.7,286.0C1745.8,284.5 1745.8,283.0 1745.9,281.5C1746.0,280.0 1746.1,278.5 1746.2,277.0C1746.3,275.5 1746.4,274.0 1746.5,272.5C1746.6,271.0 1746.6,269.5 1746.7,268.0C1746.8,266.5 1746.9,265.0 1747.0,263.5C1747.1,262.0 1747.1,260.5 1747.2,259.0C1747.3,257.5 1747.4,256.0 1747.5,254.5C1747.6,253.0 1747.6,251.5 1747.7,250.0C1747.8,248.5 1747.9,247.1 1748.0,245.6C1748.1,244.1 1748.1,242.6 1748.2,241.1C1748.3,239.6 1748.4,238.1 1748.5,236.6C1748.6,235.1 1748.6,233.6 1748.7,232.1C1748.8,230.6 1748.9,229.1 1749.0,227.6C1749.1,226.1 1749.2,224.6 1749.3,223.1C1749.4,221.6 1749.4,220.1 1749.5,218.6C1749.6,217.1 1749.7,215.6 1749.8,214.1C1749.9,212.6 1749.9,211.1 1750.0,209.6C1750.1,208.1 1750.2,206.6 1750.3,205.1C1750.4,203.6 1750.5,202.1 1750.6,200.6C1750.7,199.1 1750.7,197.6 1750.8,196.1C1750.9,194.6 1751.0,193.1 1751.1,191.6C1751.2,190.1 1751.3,188.6 1751.4,187.1C1751.5,185.6 1751.6,184.2 1751.7,182.7C1751.8,181.2 1751.9,179.7 1752.0,178.2C1752.1,176.7 1752.1,175.2 1752.2,173.7C1752.3,172.2 1752.4,170.7 1752.5,169.2C1752.6,167.7 1752.7,166.2 1752.8,164.7C1752.9,163.2 1752.9,161.7 1753.0,160.2C1753.1,158.7 1753.2,157.2 1753.3,155.7C1753.4,154.2 1753.4,152.7 1753.5,151.2C1753.6,149.7 1753.6,148.2 1753.7,146.7C1753.8,145.2 1753.9,143.7 1754.0,142.2C1754.1,140.7 1754.1,139.2 1754.2,137.7C1754.3,136.2 1754.3,134.7 1754.4,133.2C1754.5,131.7 1754.5,130.2 1754.6,128.7C1754.7,127.2 1754.7,125.7 1754.8,124.2C1754.9,122.7 1754.9,121.2 1755.0,119.7C1755.1,118.2 1755.1,116.8 1755.2,115.3C1755.3,113.8 1755.4,112.3 1755.5,110.8C1755.6,109.3 1755.6,107.8 1755.7,106.3C1755.8,104.8 1755.9,103.3 1756.0,101.8C1756.1,100.3 1756.1,98.8 1756.2,97.3C1756.3,95.8 1756.4,94.3 1756.5,92.8C1756.6,91.3 1756.7,89.8 1756.8,88.3C1756.9,86.8 1757.0,85.3 1757.1,83.8C1757.2,82.3 1757.3,80.8 1757.4,79.3C1757.5,77.8 1757.6,76.3 1757.7,74.8C1757.8,73.3 1758.0,71.8 1758.1,70.3C1758.2,68.8 1758.3,67.4 1758.4,65.9C1758.5,64.4 1758.6,62.9 1758.7,61.4C1758.8,59.9 1758.9,58.5 1759.0,57.1C1759.1,55.7 1759.2,54.3 1759.3,53.0C1759.4,51.7 1759.4,51.0 1759.5,49.5C1759.6,48.0 1759.8,44.9 1759.9,44.0" stroke="#000000"/>
<path d="M260.0,1183.5C261.0,1183.5 264.3,1183.5 265.9,1183.5C267.5,1183.5 268.2,1183.5 269.5,1183.5C270.8,1183.5 272.2,1183.5 273.6,1183.5C275.0,1183.5 276.5,1183.5 278.0,1183.5C279.5,1183.5 281.0,1183.5 282.5,1183.5C284.0,1183.5 285.5,1183.5 287.0,1183.5C288.5,1183.5 290.0,1183.5 291.5,1183.5C293.0,1183.5 294.5,1183.5 296.0,1183.5C297.5,1183.5 299.0,1183.5 300.5,1183.5C302.0,1183.5 303.5,1183.5 305.0,1183.5C306.5,1183.5 308.0,1183.5 309.5,1183.5C311.0,1183.5 312.5,1183.5 314.0,1183.5C315.5,1183.5 317.0,1183.5 318.5,1183.5C320.0,1183.5 321.5,1183.5 323.0,1183.5C324.5,1183.5 326.0,1183.5 327.5,1183.5C329.0,1183.5 330.5,1183.5 332.0,1183.5C333.5,1183.5 335.0,1183.5 336.5,1183.5C338.0,1183.5 339.5,1183.5 341.0,1183.5C342.5,1183.5 344.0,1183.5 345.5,1183.5C347.0,1183.5 348.5,1183.5 350.0,1183.5C351.5,1183.5 353.0,1183.5 354.5,1183.5C356.0,1183.5 357.5,1183.5 359.0,1183.5C360.5,1183.5 362.0,1183.5 363.5,1183.5C365.0,1183.5 366.5,1183.5 368.0,1183.5C369.5,1183.5 371.0,1183.5 372.5,1183.5C374.0,1183.5 375.5,1183.5 377.0,1183.5C378.5,1183.5 380.0,1183.5 381.5,1183.5C383.0,1183.5 384.5,1183.5 386.0,1183.5C387.5,1183.5 389.0,1183.5 390.5,1183.5C392.0,1183.5 393.5,1183.5 395.0,1183.5C396.5,1183.5 398.0,1183.5 399.5,1183.5C401.0,1183.5 402.5,1183.5 404.0,1183.5C405.5,1183.5 407.0,1183.5 408.5,1183.5C410.0,1183.5 411.5,1183.5 413.0,1183.5C414.5,1183.5 416.0,1183.5 417.5,1183.5C419.0,1183.5 420.5,1183.5 422.0,1183.5C423.5,1183.5 425.0,1183.4 426.5,1183.4C428.0,1183.4 429.5,1183.4 431.0,1183.4C432.5,1183.4 434.0,1183.4 435.5,1183.4C437.0,1183.4 438.5,1183.4 440.0,1183.4C441.5,1183.4 443.0,1183.4 444.5,1183.4C446.0,1183.4 447.5,1183.3 449.0,1183.3C450.5,1183.3 452.0,1183.3 453.5,1183.3C455.0,1183.3 456.5,1183.3 458.0,1183.3C459.5,1183.3 461.0,1183.2 462.5,1183.2C464.0,1183.2 465.5,1183.2 467.0,1183.2C468.5,1183.2 470.0,1183.1 471.5,1183.1C473.0,1183.1 474.5,1183.1 476.0,1183.1C477.5,1183.1 479.0,1183.1 480.5,1183.1C482.0,1183.1 483.5,1183.0 485.0,1183.0C486.5,1183.0 488.0,1183.0 489.5,1183.0C491.0,1183.0 492.5,1182.9 494.0,1182.9C495.5,1182.9 497.0,1182.8 498.5,1182.8C500.0,1182.8 501.5,1182.7 503.0,1182.7C504.5,1182.7 506.0,1182.6 507.5,1182.6C509.0,1182.6 510.5,1182.5 512.0,1182.5C513.5,1182.5 515.0,1182.3 516.5,1182.3C518.0,1182.2 519.5,1182.2 521.0,1182.2C522.5,1182.2 524.0,1182.1 525.5,1182.0C527.0,1181.9 528.5,1181.9 530.0,1181.8C531.5,1181.7 533.0,1181.7 534.5,1181.6C536.0,1181.5 537.5,1181.5 539.0,1181.4C540.5,1181.3 542.0,1181.3 543.5,1181.2C545.0,1181.1 546.5,1181.0 548.0,1180.9C549.5,1180.8 551.0,1180.8 552.5,1180.7C554.0,1180.6 555.5,1180.6 557.0,1180.5C558.5,1180.4 559.9,1180.4 561.4,1180.3C562.9,1180.2 564.4,1180.1 565.9,1180.0C567.4,1179.9 568.9,1179.9 570.4,1179.8C571.9,1179.7 573.4,1179.6 574.9,1179.5C576.4,1179.4 577.9,1179.3 579.4,1179.2C580.9,1179.1 582.4,1179.0 583.9,1178.9C585.4,1178.8 586.9,1178.8 588.4,1178.7C589.9,1178.6 591.4,1178.5 592.9,1178.4C594.4,1178.3 595.9,1178.1 597.4,1178.0C598.9,1177.9 600.4,1177.8 601.9,1177.7C603.4,1177.6 604.9,1177.5 606.4,1177.4C607.9,1177.3 609.3,1177.1 610.8,1177.0C612.3,1176.9 613.8,1176.8 615.3,1176.6C616.8,1176.4 618.3,1176.3 619.8,1176.1C621.3,1175.9 622.8,1175.7 624.3,1175.5C625.8,1175.3 627.2,1175.2 628.7,1174.9C630.2,1174.7 631.6,1174.3 633.1,1174.0C634.6,1173.7 636.1,1173.2 637.5,1172.8C638.9,1172.3 640.3,1171.9 641.7,1171.3C643.1,1170.7 644.4,1170.0 645.7,1169.3C647.0,1168.6 648.4,1167.8 649.6,1167.0C650.9,1166.2 652.0,1165.4 653.2,1164.4C654.4,1163.5 655.5,1162.3 656.6,1161.3C657.7,1160.3 658.7,1159.2 659.8,1158.2C660.9,1157.2 662.0,1156.1 663.0,1155.0C664.0,1153.9 665.1,1152.8 666.1,1151.7C667.1,1150.6 668.0,1149.5 669.0,1148.3C670.0,1147.1 670.9,1146.0 671.8,1144.8C672.7,1143.6 673.6,1142.4 674.5,1141.2C675.4,1140.0 676.2,1138.8 677.0,1137.5C677.8,1136.2 678.5,1135.0 679.3,1133.7C680.1,1132.4 680.9,1131.1 681.6,1129.8C682.3,1128.5 683.0,1127.1 683.7,1125.8C684.4,1124.5 685.1,1123.1 685.7,1121.8C686.4,1120.5 687.0,1119.1 687.6,1117.7C688.2,1116.3 688.9,1115.0 689.5,1113.6C690.1,1112.2 690.7,1110.9 691.3,1109.5C691.9,1108.1 692.4,1106.7 693.0,1105.3C693.6,1103.9 694.2,1102.5 694.7,1101.1C695.2,1099.7 695.8,1098.3 696.3,1096.9C696.8,1095.5 697.3,1094.1 697.7,1092.7C698.1,1091.3 698.5,1089.8 698.9,1088.3C699.3,1086.8 699.7,1085.4 700.1,1084.0C700.5,1082.6 701.0,1081.1 701.4,1079.7C701.8,1078.3 702.3,1076.8 702.7,1075.4C703.1,1074.0 703.5,1072.5 704.0,1071.1C704.5,1069.7 704.9,1068.2 705.4,1066.8C705.9,1065.4 706.4,1064.0 706.9,1062.6C707.4,1061.2 707.9,1059.7 708.4,1058.3C708.9,1056.9 709.3,1055.5 709.8,1054.1C710.3,1052.7 710.8,1051.2 711.2,1049.8C711.7,1048.4 712.1,1047.0 712.5,1045.5C712.9,1044.0 713.3,1042.5 713.7,1041.1C714.1,1039.6 714.5,1038.2 714.9,1036.8C715.3,1035.3 715.6,1033.9 716.0,1032.4C716.4,1031.0 716.7,1029.5 717.1,1028.1C717.5,1026.6 717.9,1025.2 718.3,1023.7C718.7,1022.2 719.1,1020.9 719.5,1019.4C719.9,1017.9 720.2,1016.5 720.6,1015.0C721.0,1013.5 721.4,1012.2 721.8,1010.7C722.2,1009.2 722.5,1007.8 722.9,1006.3C723.3,1004.8 723.6,1003.5 724.0,1002.0C724.4,1000.5 724.7,999.1 725.0,997.6C725.3,996.1 725.6,994.7 725.9,993.2C726.2,991.7 726.5,990.3 726.8,988.8C727.1,987.3 727.4,985.9 727.7,984.4C728.0,982.9 728.3,981.4 728.6,979.9C728.9,978.4 729.1,977.0 729.4,975.5C729.7,974.0 730.0,972.6 730.3,971.1C730.6,969.6 730.9,968.2 731.2,966.7C731.5,965.2 731.8,963.8 732.1,962.3C732.4,960.8 732.7,959.4 733.0,957.9C733.3,956.4 733.7,955.0 734.0,953.5C734.3,952.0 734.6,950.6 734.9,949.1C735.2,947.6 735.6,946.2 735.9,944.7C736.2,943.2 736.6,941.8 736.9,940.3C737.2,938.8 737.6,937.4 737.9,935.9C738.2,934.4 738.6,933.0 738.9,931.5C739.2,930.0 739.6,928.6 739.9,927.1C740.2,925.6 740.4,924.2 740.7,922.7C741.0,921.2 741.3,919.8 741.6,918.3C741.9,916.8 742.1,915.4 742.4,913.9C742.7,912.4 743.0,911.0 743.3,909.5C743.6,908.0 743.8,906.5 744.1,905.0C744.4,903.5 744.7,902.1 745.0,900.6C745.3,899.1 745.7,897.8 746.0,896.3C746.3,894.8 746.6,893.4 747.0,891.9C747.4,890.4 747.8,889.0 748.1,887.5C748.5,886.0 748.8,884.6 749.1,883.1C749.4,881.6 749.8,880.2 750.1,878.7C750.4,877.2 750.7,875.8 751.0,874.3C751.3,872.8 751.6,871.4 751.9,869.9C752.2,868.4 752.4,867.0 752.7,865.5C753.0,864.0 753.2,862.6 753.5,861.1C753.8,859.6 753.9,858.1 754.2,856.6C754.5,855.1 754.8,853.7 755.1,852.2C755.4,850.7 755.6,849.3 755.9,847.8C756.2,846.3 756.4,844.9 756.7,843.4C757.0,841.9 757.2,840.4 757.5,838.9C757.8,837.4 758.0,836.0 758.3,834.5C758.6,833.0 758.8,831.6 759.1,830.1C759.4,828.6 759.6,827.1 759.9,825.6C760.2,824.1 760.4,822.7 760.7,821.2C761.0,819.7 761.2,818.3 761.5,816.8C761.8,815.3 762.0,813.8 762.2,812.3C762.5,810.8 762.7,809.4 763.0,807.9C763.3,806.4 763.6,805.0 763.9,803.5C764.2,802.0 764.5,800.6 764.8,799.1C765.1,797.6 765.4,796.2 765.7,794.7C766.0,793.2 766.4,791.8 766.7,790.3C767.0,788.8 767.4,787.4 767.7,785.9C768.0,784.4 768.3,783.0 768.6,781.5C768.9,780.0 769.2,778.6 769.5,777.1C769.8,775.6 770.1,774.2 770.4,772.7C770.7,771.2 771.0,769.8 771.3,768.3C771.6,766.8 771.9,765.4 772.2,763.9C772.5,762.4 772.8,761.0 773.1,759.5C773.4,758.0 773.8,756.6 774.2,755.1C774.6,753.6 774.9,752.2 775.3,750.8C775.7,749.3 776.2,747.8 776.6,746.4C777.0,745.0 777.5,743.5 777.9,742.1C778.3,740.7 778.8,739.2 779.3,737.8C779.8,736.4 780.2,734.9 780.6,733.5C781.0,732.1 781.5,730.6 781.9,729.2C782.3,727.8 782.8,726.3 783.2,724.9C783.7,723.5 784.1,722.0 784.6,720.6C785.1,719.2 785.5,717.8 786.0,716.4C786.5,715.0 787.0,713.5 787.5,712.1C788.0,710.7 788.7,709.4 789.3,708.0C789.9,706.6 790.5,705.2 791.2,703.9C791.9,702.6 792.5,701.3 793.3,700.0C794.0,698.7 794.8,697.3 795.7,696.1C796.6,694.9 797.5,693.7 798.5,692.6C799.5,691.5 800.7,690.5 802.0,689.8C803.3,689.1 804.8,688.7 806.3,688.6C807.8,688.5 809.3,688.7 810.7,689.1C812.1,689.5 813.5,690.2 814.8,690.9C816.1,691.6 817.3,692.6 818.5,693.5C819.7,694.4 820.8,695.5 821.9,696.5C823.0,697.5 824.1,698.6 825.2,699.6C826.3,700.6 827.5,701.6 828.7,702.4C830.0,703.2 831.3,704.0 832.7,704.3C834.1,704.6 835.7,704.4 837.1,704.0C838.5,703.6 839.9,702.9 841.2,702.2C842.5,701.5 843.9,700.8 845.1,699.9C846.3,699.0 847.4,698.0 848.4,696.9C849.4,695.8 850.2,694.6 851.0,693.3C851.8,692.0 852.6,690.6 853.3,689.3C854.0,688.0 854.6,686.6 855.3,685.3C855.9,683.9 856.6,682.6 857.2,681.2C857.8,679.8 858.5,678.5 859.0,677.1C859.5,675.7 860.0,674.3 860.5,672.9C861.0,671.5 861.3,670.0 861.7,668.6C862.1,667.2 862.5,665.7 862.9,664.2C863.3,662.8 863.6,661.4 864.0,659.9C864.4,658.4 864.8,657.0 865.1,655.5C865.5,654.0 865.8,652.6 866.1,651.1C866.4,649.6 866.8,648.2 867.1,646.7C867.4,645.2 867.8,643.8 868.1,642.3C868.4,640.8 868.7,639.4 869.0,637.9C869.3,636.4 869.7,635.0 870.0,633.5C870.3,632.0 870.6,630.6 870.9,629.1C871.2,627.6 871.5,626.2 871.8,624.7C872.1,623.2 872.4,621.8 872.7,620.3C873.0,618.8 873.4,617.3 873.8,615.9C874.2,614.5 874.5,613.0 875.1,611.6C875.7,610.2 876.2,608.6 877.2,607.6C878.2,606.6 879.8,605.6 880.8,605.9C881.8,606.2 882.8,607.9 883.4,609.2C884.0,610.5 884.3,612.1 884.6,613.6C884.9,615.1 885.1,616.6 885.4,618.1C885.7,619.6 886.0,621.0 886.2,622.5C886.5,624.0 886.6,625.4 886.9,626.9C887.1,628.4 887.5,629.9 887.7,631.4C887.9,632.9 888.1,634.3 888.3,635.8C888.5,637.3 888.8,638.8 889.0,640.3C889.2,641.8 889.4,643.2 889.6,644.7C889.8,646.2 890.0,647.7 890.2,649.2C890.4,650.7 890.5,652.1 890.7,653.6C890.9,655.1 891.0,656.6 891.2,658.1C891.4,659.6 891.5,661.1 891.7,662.6C891.9,664.1 892.0,665.6 892.2,667.1C892.4,668.6 892.6,670.0 892.7,671.5C892.9,673.0 893.0,674.5 893.1,676.0C893.2,677.5 893.4,679.0 893.5,680.5C893.6,682.0 893.8,683.5 893.9,685.0C894.0,686.5 894.1,688.0 894.2,689.5C894.3,691.0 894.5,692.5 894.6,694.0C894.7,695.5 894.8,696.9 894.9,698.4C895.0,699.9 895.1,701.4 895.2,702.9C895.3,704.4 895.5,705.9 895.6,707.4C895.7,708.9 895.8,710.4 895.9,711.9C896.0,713.4 896.1,714.9 896.2,716.4C896.3,717.9 896.5,719.4 896.6,720.9C896.7,722.4 896.8,723.9 896.9,725.4C897.0,726.9 897.2,728.4 897.3,729.9C897.4,731.4 897.5,732.8 897.6,734.3C897.7,735.8 897.9,737.3 898.0,738.8C898.1,740.3 898.2,741.8 898.3,743.3C898.4,744.8 898.6,746.3 898.7,747.8C898.8,749.3 898.9,750.8 899.0,752.3C899.1,753.8 899.3,755.3 899.4,756.8C899.5,758.3 899.7,759.8 899.8,761.3C899.9,762.8 900.1,764.2 900.2,765.7C900.3,767.2 900.5,768.7 900.6,770.2C900.7,771.7 900.9,773.2 901.0,774.7C901.1,776.2 901.3,777.7 901.4,779.2C901.5,780.7 901.7,782.2 901.8,783.7C901.9,785.2 902.1,786.7 902.2,788.2C902.3,789.7 902.4,791.1 902.5,792.6C902.6,794.1 902.8,795.6 902.9,797.1C903.0,798.6 903.1,800.1 903.2,801.6C903.3,803.1 903.5,804.6 903.6,806.1C903.7,807.6 903.8,809.1 903.9,810.6C904.0,812.1 904.2,813.6 904.3,815.1C904.4,816.6 904.6,818.1 904.7,819.6C904.8,821.1 904.9,822.5 905.0,824.0C905.1,825.5 905.3,827.0 905.4,828.5C905.5,830.0 905.7,831.5 905.8,833.0C905.9,834.5 906.1,836.0 906.2,837.5C906.3,839.0 906.5,840.5 906.6,842.0C906.7,843.5 906.9,845.0 907.0,846.5C907.1,848.0 907.3,849.4 907.4,850.9C907.5,852.4 907.7,853.9 907.8,855.4C907.9,856.9 908.1,858.4 908.2,859.9C908.3,861.4 908.5,862.9 908.6,864.4C908.7,865.9 908.9,867.4 909.0,868.9C909.1,870.4 909.3,871.8 909.4,873.3C909.5,874.8 909.6,876.3 909.7,877.8C909.8,879.3 909.9,880.8 910.0,882.3C910.1,883.8 910.2,885.3 910.3,886.8C910.4,888.3 910.5,889.8 910.6,891.3C910.7,892.8 910.8,894.3 910.9,895.8C911.0,897.3 911.1,898.8 911.2,900.3C911.3,901.8 911.5,903.3 911.6,904.8C911.7,906.3 911.9,907.7 912.0,909.2C912.1,910.7 912.3,912.2 912.5,913.7C912.7,915.2 912.8,916.7 913.0,918.2C913.2,919.7 913.4,921.2 913.6,922.7C913.8,924.2 913.9,925.6 914.1,927.1C914.3,928.6 914.4,930.1 914.6,931.6C914.8,933.1 914.9,934.6 915.1,936.1C915.3,937.6 915.5,939.0 915.6,940.5C915.8,942.0 915.9,943.5 916.0,945.0C916.1,946.5 916.4,948.0 916.5,949.5C916.6,951.0 916.8,952.5 916.9,954.0C917.0,955.5 917.1,957.0 917.3,958.5C917.4,960.0 917.6,961.4 917.8,962.9C917.9,964.4 918.1,965.9 918.2,967.4C918.4,968.9 918.6,970.4 918.7,971.9C918.9,973.4 919.0,974.9 919.1,976.4C919.2,977.9 919.4,979.3 919.6,980.8C919.8,982.3 919.9,983.8 920.1,985.3C920.3,986.8 920.4,988.3 920.6,989.8C920.8,991.3 921.0,992.8 921.2,994.3C921.4,995.8 921.5,997.2 921.7,998.7C921.9,1000.2 922.1,1001.7 922.3,1003.2C922.5,1004.7 922.8,1006.1 923.0,1007.6C923.2,1009.1 923.5,1010.6 923.7,1012.1C923.9,1013.6 924.1,1015.0 924.4,1016.5C924.6,1018.0 924.9,1019.4 925.2,1020.9C925.5,1022.4 925.7,1023.9 926.0,1025.4C926.3,1026.9 926.5,1028.3 926.8,1029.8C927.1,1031.3 927.4,1032.7 927.7,1034.2C928.0,1035.7 928.2,1037.1 928.5,1038.6C928.8,1040.1 929.1,1041.5 929.4,1043.0C929.7,1044.5 930.0,1046.0 930.3,1047.5C930.6,1049.0 930.8,1050.4 931.1,1051.9C931.4,1053.4 931.7,1054.8 932.0,1056.3C932.3,1057.8 932.6,1059.2 932.9,1060.7C933.2,1062.2 933.6,1063.6 933.9,1065.1C934.2,1066.6 934.5,1068.0 934.8,1069.5C935.1,1071.0 935.5,1072.4 935.8,1073.9C936.1,1075.4 936.5,1076.8 936.8,1078.3C937.1,1079.8 937.5,1081.2 937.8,1082.7C938.1,1084.2 938.5,1085.5 938.8,1087.0C939.1,1088.5 939.4,1089.9 939.8,1091.4C940.1,1092.9 940.5,1094.3 940.9,1095.8C941.3,1097.3 941.6,1098.8 942.0,1100.2C942.4,1101.7 942.7,1103.0 943.1,1104.5C943.5,1106.0 943.8,1107.5 944.2,1108.9C944.6,1110.4 945.0,1111.8 945.4,1113.2C945.8,1114.7 946.3,1116.2 946.7,1117.6C947.1,1119.0 947.5,1120.4 948.0,1121.8C948.5,1123.2 949.0,1124.7 949.5,1126.1C950.0,1127.5 950.5,1128.9 951.0,1130.3C951.5,1131.7 952.2,1133.1 952.8,1134.5C953.4,1135.9 954.1,1137.2 954.8,1138.5C955.5,1139.8 956.2,1141.0 957.0,1142.3C957.8,1143.6 958.7,1144.8 959.5,1146.1C960.3,1147.4 961.2,1148.6 962.0,1149.9C962.8,1151.2 963.6,1152.4 964.5,1153.7C965.4,1155.0 966.2,1156.3 967.2,1157.5C968.2,1158.7 969.1,1159.7 970.2,1160.6C971.3,1161.5 972.6,1162.3 973.9,1163.0C975.2,1163.7 976.6,1164.3 978.0,1165.0C979.4,1165.7 980.7,1166.3 982.1,1166.9C983.5,1167.5 984.8,1168.2 986.2,1168.7C987.6,1169.2 989.1,1169.8 990.5,1170.2C991.9,1170.6 993.3,1171.0 994.8,1171.3C996.2,1171.6 997.7,1171.9 999.2,1172.2C1000.7,1172.5 1002.2,1172.8 1003.7,1173.0C1005.2,1173.2 1006.6,1173.4 1008.1,1173.6C1009.6,1173.8 1011.1,1174.0 1012.6,1174.2C1014.1,1174.4 1015.6,1174.4 1017.1,1174.5C1018.6,1174.6 1020.0,1174.6 1021.5,1174.6C1023.0,1174.6 1024.5,1174.6 1026.0,1174.6C1027.5,1174.6 1029.0,1174.5 1030.5,1174.4C1032.0,1174.3 1033.5,1174.3 1035.0,1174.2C1036.5,1174.1 1038.0,1174.1 1039.5,1174.0C1041.0,1173.9 1042.5,1173.8 1044.0,1173.7C1045.5,1173.6 1047.0,1173.5 1048.5,1173.4C1050.0,1173.3 1051.5,1173.2 1053.0,1173.1C1054.5,1173.0 1056.0,1172.8 1057.5,1172.7C1059.0,1172.6 1060.5,1172.4 1062.0,1172.3C1063.5,1172.2 1064.9,1172.1 1066.4,1171.9C1067.9,1171.8 1069.4,1171.6 1070.9,1171.4C1072.4,1171.2 1073.9,1171.1 1075.4,1170.9C1076.9,1170.7 1078.3,1170.5 1079.8,1170.3C1081.3,1170.1 1082.8,1169.9 1084.3,1169.7C1085.8,1169.5 1087.3,1169.4 1088.8,1169.2C1090.3,1169.0 1091.7,1168.8 1093.2,1168.6C1094.7,1168.4 1096.2,1168.2 1097.7,1168.0C1099.2,1167.8 1100.7,1167.7 1102.2,1167.5C1103.7,1167.3 1105.1,1167.1 1106.6,1166.9C1108.1,1166.7 1109.6,1166.5 1111.1,1166.3C1112.6,1166.1 1114.1,1165.9 1115.6,1165.7C1117.1,1165.5 1118.5,1165.3 1120.0,1165.1C1121.5,1164.9 1123.0,1164.7 1124.5,1164.5C1126.0,1164.3 1127.4,1164.1 1128.9,1163.9C1130.4,1163.7 1131.9,1163.5 1133.4,1163.3C1134.9,1163.1 1136.4,1162.9 1137.9,1162.7C1139.4,1162.5 1140.8,1162.3 1142.3,1162.1C1143.8,1161.9 1145.3,1161.7 1146.8,1161.5C1148.3,1161.3 1149.7,1161.0 1151.2,1160.8C1152.7,1160.6 1154.2,1160.4 1155.7,1160.2C1157.2,1160.0 1158.6,1159.7 1160.1,1159.5C1161.6,1159.3 1163.1,1159.0 1164.6,1158.8C1166.1,1158.6 1167.5,1158.3 1169.0,1158.1C1170.5,1157.9 1172.0,1157.7 1173.5,1157.4C1175.0,1157.2 1176.4,1156.9 1177.9,1156.6C1179.4,1156.3 1180.8,1156.1 1182.3,1155.8C1183.8,1155.5 1185.2,1155.2 1186.7,1154.9C1188.2,1154.6 1189.6,1154.3 1191.1,1154.0C1192.6,1153.7 1194.0,1153.4 1195.5,1153.1C1197.0,1152.8 1198.4,1152.4 1199.9,1152.1C1201.4,1151.8 1202.8,1151.4 1204.3,1151.1C1205.8,1150.8 1207.2,1150.3 1208.7,1150.0C1210.2,1149.7 1211.6,1149.4 1213.1,1149.0C1214.5,1148.6 1216.0,1148.2 1217.4,1147.8C1218.9,1147.4 1220.3,1147.1 1221.8,1146.7C1223.2,1146.3 1224.7,1145.9 1226.1,1145.5C1227.5,1145.1 1229.0,1144.7 1230.4,1144.3C1231.9,1143.9 1233.3,1143.5 1234.8,1143.1C1236.2,1142.7 1237.7,1142.2 1239.1,1141.8C1240.5,1141.4 1242.0,1141.0 1243.4,1140.5C1244.8,1140.0 1246.3,1139.6 1247.7,1139.1C1249.1,1138.6 1250.6,1138.2 1252.0,1137.7C1253.4,1137.2 1254.8,1136.8 1256.2,1136.3C1257.6,1135.8 1259.1,1135.3 1260.5,1134.8C1261.9,1134.3 1263.3,1133.8 1264.7,1133.3C1266.1,1132.8 1267.5,1132.2 1268.9,1131.6C1270.3,1131.0 1271.6,1130.4 1272.9,1129.7C1274.2,1129.0 1275.6,1128.3 1276.9,1127.6C1278.2,1126.9 1279.5,1126.1 1280.8,1125.3C1282.1,1124.5 1283.4,1123.8 1284.7,1123.0C1286.0,1122.2 1287.2,1121.5 1288.5,1120.7C1289.8,1119.9 1291.1,1119.1 1292.4,1118.3C1293.7,1117.5 1294.9,1116.7 1296.2,1115.9C1297.5,1115.1 1298.8,1114.3 1300.0,1113.5C1301.2,1112.7 1302.5,1111.9 1303.7,1111.1C1305.0,1110.3 1306.2,1109.4 1307.5,1108.6C1308.8,1107.8 1310.0,1106.9 1311.2,1106.1C1312.4,1105.2 1313.7,1104.4 1314.9,1103.5C1316.1,1102.6 1317.3,1101.7 1318.5,1100.8C1319.7,1099.9 1321.0,1099.0 1322.2,1098.1C1323.4,1097.2 1324.5,1096.3 1325.7,1095.4C1326.9,1094.5 1328.1,1093.6 1329.3,1092.7C1330.5,1091.8 1331.6,1090.8 1332.8,1089.8C1334.0,1088.8 1335.1,1088.0 1336.3,1087.0C1337.5,1086.0 1338.6,1085.1 1339.7,1084.1C1340.8,1083.1 1342.0,1082.2 1343.1,1081.2C1344.2,1080.2 1345.4,1079.2 1346.5,1078.2C1347.6,1077.2 1348.8,1076.2 1349.9,1075.2C1351.0,1074.2 1352.1,1073.2 1353.2,1072.2C1354.3,1071.2 1355.4,1070.1 1356.5,1069.1C1357.6,1068.1 1358.6,1067.0 1359.7,1066.0C1360.8,1065.0 1361.8,1063.8 1362.9,1062.8C1364.0,1061.8 1365.1,1060.7 1366.2,1059.7C1367.3,1058.7 1368.3,1057.6 1369.4,1056.6C1370.5,1055.5 1371.5,1054.5 1372.6,1053.4C1373.7,1052.4 1374.8,1051.3 1375.9,1050.3C1377.0,1049.3 1378.0,1048.2 1379.1,1047.2C1380.2,1046.2 1381.3,1045.1 1382.4,1044.1C1383.5,1043.1 1384.6,1042.0 1385.7,1041.0C1386.8,1040.0 1387.9,1039.0 1389.0,1038.0C1390.1,1037.0 1391.2,1036.0 1392.4,1035.0C1393.6,1034.0 1394.7,1033.0 1395.9,1032.1C1397.1,1031.2 1398.2,1030.3 1399.5,1029.5C1400.8,1028.7 1402.1,1028.0 1403.5,1027.4C1404.9,1026.8 1406.3,1026.1 1407.7,1025.7C1409.1,1025.3 1410.6,1025.1 1412.1,1024.9C1413.6,1024.7 1415.1,1024.5 1416.6,1024.5C1418.1,1024.5 1419.6,1024.5 1421.1,1024.6C1422.6,1024.7 1424.2,1024.9 1425.6,1025.2C1427.0,1025.5 1428.3,1025.9 1429.7,1026.6C1431.1,1027.2 1432.4,1028.2 1433.7,1029.1C1435.0,1029.9 1436.1,1030.8 1437.3,1031.7C1438.5,1032.6 1439.6,1033.7 1440.7,1034.7C1441.8,1035.7 1442.9,1036.8 1443.9,1037.9C1444.9,1039.0 1445.9,1040.1 1446.8,1041.3C1447.7,1042.5 1448.6,1043.8 1449.4,1045.0C1450.2,1046.2 1451.0,1047.5 1451.7,1048.8C1452.5,1050.1 1453.2,1051.5 1453.9,1052.8C1454.6,1054.1 1455.2,1055.5 1455.9,1056.8C1456.6,1058.1 1457.4,1059.4 1458.1,1060.7C1458.8,1062.0 1459.5,1063.4 1460.2,1064.7C1460.9,1066.0 1461.7,1067.3 1462.4,1068.6C1463.2,1069.9 1464.0,1071.2 1464.7,1072.5C1465.5,1073.8 1466.2,1075.1 1466.9,1076.4C1467.6,1077.7 1468.4,1079.0 1469.1,1080.3C1469.8,1081.6 1470.6,1083.0 1471.3,1084.3C1472.0,1085.6 1472.8,1086.9 1473.5,1088.2C1474.2,1089.5 1475.0,1090.8 1475.7,1092.1C1476.4,1093.4 1477.2,1094.8 1477.9,1096.1C1478.6,1097.4 1479.4,1098.7 1480.1,1100.0C1480.8,1101.3 1481.5,1102.6 1482.3,1103.9C1483.0,1105.2 1483.8,1106.4 1484.6,1107.7C1485.4,1109.0 1486.2,1110.3 1487.0,1111.6C1487.8,1112.9 1488.6,1114.2 1489.4,1115.4C1490.2,1116.7 1491.1,1117.9 1491.9,1119.1C1492.8,1120.3 1493.6,1121.6 1494.5,1122.8C1495.4,1124.0 1496.2,1125.2 1497.1,1126.4C1498.0,1127.6 1499.0,1128.8 1499.9,1130.0C1500.9,1131.2 1501.8,1132.3 1502.8,1133.4C1503.8,1134.5 1504.7,1135.7 1505.7,1136.8C1506.7,1137.9 1507.8,1138.9 1508.9,1140.0C1510.0,1141.1 1511.0,1142.2 1512.1,1143.2C1513.2,1144.2 1514.3,1145.2 1515.4,1146.2C1516.5,1147.2 1517.7,1148.2 1518.9,1149.1C1520.1,1150.0 1521.2,1150.9 1522.4,1151.8C1523.6,1152.7 1524.8,1153.6 1526.1,1154.4C1527.3,1155.2 1528.6,1156.0 1529.9,1156.7C1531.2,1157.4 1532.6,1158.1 1533.9,1158.8C1535.2,1159.5 1536.7,1160.1 1538.0,1160.8C1539.3,1161.5 1540.6,1162.1 1542.0,1162.7C1543.4,1163.3 1544.8,1163.9 1546.2,1164.5C1547.6,1165.1 1548.9,1165.7 1550.3,1166.2C1551.7,1166.8 1553.1,1167.3 1554.5,1167.8C1555.9,1168.3 1557.4,1168.8 1558.8,1169.2C1560.2,1169.6 1561.6,1170.0 1563.1,1170.4C1564.5,1170.8 1566.0,1171.2 1567.5,1171.5C1569.0,1171.8 1570.3,1172.2 1571.8,1172.5C1573.3,1172.8 1574.8,1173.1 1576.3,1173.4C1577.8,1173.7 1579.2,1173.8 1580.7,1174.1C1582.2,1174.3 1583.6,1174.7 1585.1,1174.9C1586.6,1175.1 1588.1,1175.3 1589.6,1175.5C1591.1,1175.7 1592.5,1175.9 1594.0,1176.1C1595.5,1176.3 1597.0,1176.5 1598.5,1176.7C1600.0,1176.9 1601.5,1177.1 1603.0,1177.3C1604.5,1177.5 1605.9,1177.6 1607.4,1177.8C1608.9,1178.0 1610.4,1178.0 1611.9,1178.2C1613.4,1178.4 1614.9,1178.6 1616.4,1178.7C1617.9,1178.8 1619.4,1179.0 1620.9,1179.1C1622.4,1179.2 1623.9,1179.4 1625.4,1179.5C1626.9,1179.6 1628.3,1179.7 1629.8,1179.8C1631.3,1179.9 1632.8,1180.1 1634.3,1180.2C1635.8,1180.3 1637.3,1180.4 1638.8,1180.5C1640.3,1180.6 1641.8,1180.7 1643.3,1180.8C1644.8,1180.9 1646.3,1181.0 1647.8,1181.1C1649.3,1181.2 1650.8,1181.3 1652.3,1181.4C1653.8,1181.5 1655.3,1181.5 1656.8,1181.6C1658.3,1181.6 1659.8,1181.7 1661.3,1181.7C1662.8,1181.7 1664.3,1181.8 1665.8,1181.8C1667.3,1181.8 1668.8,1181.9 1670.3,1181.9C1671.8,1181.9 1673.3,1182.0 1674.8,1182.0C1676.3,1182.0 1677.8,1182.0 1679.3,1182.0C1680.8,1182.0 1682.3,1182.1 1683.8,1182.1C1685.3,1182.1 1686.8,1182.2 1688.3,1182.2C1689.8,1182.2 1691.3,1182.3 1692.8,1182.4C1694.3,1182.5 1695.8,1182.5 1697.3,1182.6C1698.8,1182.7 1700.3,1182.8 1701.8,1182.9C1703.3,1183.0 1704.8,1183.2 1706.3,1183.3C1707.8,1183.4 1709.2,1183.5 1710.7,1183.6C1712.2,1183.6 1713.7,1183.7 1715.2,1183.6C1716.7,1183.5 1718.2,1183.2 1719.7,1183.1C1721.2,1183.0 1722.7,1183.0 1724.2,1182.9C1725.7,1182.9 1727.2,1182.8 1728.7,1182.8C1730.2,1182.8 1731.7,1182.8 1733.2,1182.8C1734.7,1182.8 1736.2,1182.8 1737.7,1182.8C1739.2,1182.8 1740.7,1182.9 1742.2,1182.9C1743.7,1182.9 1745.2,1182.9 1746.7,1182.9C1748.2,1182.9 1749.7,1183.0 1751.2,1183.1C1752.7,1183.2 1754.1,1183.2 1755.6,1183.3C1757.1,1183.4 1758.6,1183.5 1760.1,1183.6C1761.6,1183.7 1763.1,1183.8 1764.6,1184.0C1766.1,1184.2 1767.6,1184.3 1769.1,1184.5C1770.6,1184.7 1772.1,1184.8 1773.6,1184.9C1775.1,1185.0 1776.6,1185.2 1778.1,1185.3C1779.6,1185.4 1781.0,1185.5 1782.5,1185.6C1784.0,1185.6 1785.5,1185.6 1787.0,1185.6C1788.5,1185.6 1790.0,1185.6 1791.5,1185.6C1793.0,1185.6 1794.5,1185.5 1796.0,1185.5C1797.5,1185.5 1799.0,1185.4 1800.5,1185.4C1802.0,1185.4 1803.5,1185.3 1805.0,1185.3C1806.5,1185.3 1808.0,1185.2 1809.5,1185.2C1811.0,1185.2 1812.5,1185.2 1814.0,1185.2C1815.5,1185.2 1817.0,1185.3 1818.5,1185.4C1820.0,1185.5 1821.5,1185.8 1823.0,1186.0C1824.5,1186.2 1825.9,1186.4 1827.4,1186.5C1828.9,1186.6 1830.4,1186.7 1831.9,1186.7C1833.4,1186.7 1834.9,1186.7 1836.4,1186.7C1837.9,1186.7 1839.4,1186.8 1840.9,1186.7C1842.4,1186.7 1843.9,1186.6 1845.4,1186.4C1846.9,1186.2 1848.3,1185.7 1849.8,1185.5C1851.3,1185.3 1852.8,1185.2 1854.3,1185.1C1855.8,1185.0 1857.2,1185.1 1858.7,1185.1C1860.2,1185.1 1861.7,1185.1 1863.2,1185.1C1864.7,1185.1 1866.2,1185.2 1867.7,1185.2C1869.2,1185.2 1870.7,1185.2 1872.2,1185.2C1873.7,1185.2 1875.2,1185.3 1876.7,1185.3C1878.2,1185.3 1879.6,1185.4 1880.9,1185.4C1882.2,1185.5 1883.6,1185.5 1884.8,1185.6C1886.0,1185.6 1886.7,1185.7 1887.9,1185.7C1889.1,1185.7 1891.3,1185.8 1892.0,1185.8" stroke="#ff0000"/>
<rect x="260" y="1182" width="4" height="5" fill="#ff0000" shape-rendering="crispEdges"/>
</g>
<g stroke="#000" stroke-width="5" stroke-linecap="round" fill="none" shape-rendering="crispEdges">
<rect x="214" y="43" width="1681" height="6" fill="#000" stroke="none"/>
<rect x="214" y="1276" width="1681" height="5" fill="#000" stroke="none"/>
<rect x="214" y="43" width="5" height="1238" fill="#000" stroke="none"/>
<rect x="1890" y="43" width="5" height="1238" fill="#000" stroke="none"/>
<path d="M216.5,1278.5 v25.0"/>
<path d="M216.5,46.5 v24.5"/>
<path d="M356.5,1278.5 v12.0"/>
<path d="M356.5,46.5 v11.5"/>
<path d="M496.0,1278.5 v25.0" stroke-width="6"/>
<path d="M496.0,46.5 v24.5" stroke-width="6"/>
<path d="M636.0,1278.5 v12.0" stroke-width="6"/>
<path d="M636.0,46.5 v11.5" stroke-width="6"/>
<path d="M775.5,1278.5 v25.0"/>
<path d="M775.5,46.5 v24.5"/>
<path d="M914.5,1278.5 v12.0"/>
<path d="M914.5,46.5 v11.5"/>
<path d="M1055.0,1278.5 v25.0" stroke-width="6"/>
<path d="M1055.0,46.5 v24.5" stroke-width="6"/>
<path d="M1194.5,1278.5 v12.0"/>
<path d="M1194.5,46.5 v11.5"/>
<path d="M1333.5,1278.5 v25.0"/>
<path d="M1333.5,46.5 v24.5"/>
<path d="M1473.5,1278.5 v12.0"/>
<path d="M1473.5,46.5 v11.5"/>
<path d="M1613.5,1278.5 v25.0"/>
<path d="M1613.5,46.5 v24.5"/>
<path d="M1752.5,1278.5 v12.0"/>
<path d="M1752.5,46.5 v11.5"/>
<path d="M1892.5,1278.5 v25.0"/>
<path d="M1892.5,46.5 v24.5"/>
<path d="M216.5,1278.5 h-12.0"/>
<path d="M1892.5,1278.5 h-12.0"/>
<path d="M216.5,1183.5 h-25.0"/>
<path d="M1892.5,1183.5 h-25.0"/>
<path d="M216.5,1088.5 h-12.0"/>
<path d="M1892.5,1088.5 h-12.0"/>
<path d="M216.5,993.5 h-25.0"/>
<path d="M1892.5,993.5 h-25.0"/>
<path d="M216.5,899.5 h-12.0"/>
<path d="M1892.5,899.5 h-12.0"/>
<path d="M216.5,804.5 h-25.0"/>
<path d="M1892.5,804.5 h-25.0"/>
<path d="M216.5,709.5 h-12.0"/>
<path d="M1892.5,709.5 h-12.0"/>
<path d="M216.5,615.5 h-25.0"/>
<path d="M1892.5,615.5 h-25.0"/>
<path d="M216.5,519.5 h-12.0"/>
<path d="M1892.5,519.5 h-12.0"/>
<path d="M216.5,425.5 h-25.0"/>
<path d="M1892.5,425.5 h-25.0"/>
<path d="M216.5,330.5 h-12.0"/>
<path d="M1892.5,330.5 h-12.0"/>
<path d="M216.5,235.5 h-25.0"/>
<path d="M1892.5,235.5 h-25.0"/>
<path d="M216.5,140.5 h-12.0"/>
<path d="M1892.5,140.5 h-12.0"/>
<path d="M216.5,46.0 h-25.0" stroke-width="6"/>
<path d="M1892.5,46.0 h-25.0" stroke-width="6"/>
</g>
<text transform="translate(174.5,1199.5) scale(1,1.04)" font-family="'Liberation Sans', Arial, Helvetica, sans-serif" font-size="54" text-anchor="end" fill="#000">0.0</text>
<text transform="translate(174.5,1009.9) scale(1,1.04)" font-family="'Liberation Sans', Arial, Helvetica, sans-serif" font-size="54" text-anchor="end" fill="#000">0.1</text>
<text transform="translate(174.5,820.3) scale(1,1.04)" font-family="'Liberation Sans', Arial, Helvetica, sans-serif" font-size="54" text-anchor="end" fill="#000">0.2</text>
<text transform="translate(174.5,630.7) scale(1,1.04)" font-family="'Liberation Sans', Arial, Helvetica, sans-serif" font-size="54" text-anchor="end" fill="#000">0.3</text>
<text transform="translate(174.5,441.2) scale(1,1.04)" font-family="'Liberation Sans', Arial, Helvetica, sans-serif" font-size="54" text-anchor="end" fill="#000">0.4</text>
<text transform="translate(174.5,251.6) scale(1,1.04)" font-family="'Liberation Sans', Arial, Helvetica, sans-serif" font-size="54" text-anchor="end" fill="#000">0.5</text>
<text transform="translate(174.5,62.0) scale(1,1.04)" font-family="'Liberation Sans', Arial, Helvetica, sans-serif" font-size="54" text-anchor="end" fill="#000">0.6</text>
<text transform="translate(217.0,1362.5) scale(1,1.04)" font-family="'Liberation Sans', Arial, Helvetica, sans-serif" font-size="54" text-anchor="middle" fill="#000">3.0</text>
<text transform="translate(496.3,1362.5) scale(1,1.04)" font-family="'Liberation Sans', Arial, Helvetica, sans-serif" font-size="54" text-anchor="middle" fill="#000">3.5</text>
<text transform="translate(775.7,1362.5) scale(1,1.04)" font-family="'Liberation Sans', Arial, Helvetica, sans-serif" font-size="54" text-anchor="middle" fill="#000">4.0</text>
<text transform="translate(1055.0,1362.5) scale(1,1.04)" font-family="'Liberation Sans', Arial, Helvetica, sans-serif" font-size="54" text-anchor="middle" fill="#000">4.5</text>
<text transform="translate(1334.3,1362.5) scale(1,1.04)" font-family="'Liberation Sans', Arial, Helvetica, sans-serif" font-size="54" text-anchor="middle" fill="#000">5.0</text>
<text transform="translate(1613.7,1362.5) scale(1,1.04)" font-family="'Liberation Sans', Arial, Helvetica, sans-serif" font-size="54" text-anchor="middle" fill="#000">5.5</text>
<text transform="translate(1893.0,1362.5) scale(1,1.04)" font-family="'Liberation Sans', Arial, Helvetica, sans-serif" font-size="54" text-anchor="middle" fill="#000">6.0</text>
<text transform="translate(797.5,1461) scale(1,1.05)" font-family="'Liberation Sans', Arial, Helvetica, sans-serif" font-size="54" text-anchor="start" fill="#000">Potential vs. Li/Li<tspan dx="1" font-size="33" dy="-25.5">+</tspan><tspan dx="0" dy="25.5"> (V)</tspan></text>
<text transform="translate(74.5,965.5) rotate(-90) scale(1,1.05)" font-family="'Liberation Sans', Arial, Helvetica, sans-serif" font-size="54" text-anchor="start" fill="#000">Specific current (mA/cm<tspan dx="1" font-size="33" dy="-25.5">2</tspan><tspan dx="-1.5" dy="25.5">)</tspan></text>
<g shape-rendering="crispEdges">
<rect x="264" y="76" width="770" height="171" fill="#000"/>
<rect x="266" y="79" width="765" height="165" fill="#fff"/>
<path d="M305.5,119.5 H427.5" stroke="#000" stroke-width="5" stroke-linecap="round"/>
<rect x="303" y="199" width="127" height="4" fill="#ff0000"/>
</g>
<text transform="translate(441.5,138.5) scale(1,1.065)" font-family="'Liberation Sans', Arial, Helvetica, sans-serif" font-size="48" text-anchor="start" fill="#000">1M LiPF<tspan dx="0" font-size="33" dy="17.5">6</tspan><tspan dx="0.7" dy="-17.5" letter-spacing="0.15"> in EC:DMC (1:1)</tspan></text>
<text transform="translate(443.5,219.5) scale(1,1.065)" font-family="'Liberation Sans', Arial, Helvetica, sans-serif" font-size="48" text-anchor="start" fill="#000">1M LiPF<tspan dx="0" font-size="33" dy="17.5">6</tspan><tspan dx="2.1" dy="-17.5" letter-spacing="0.15"> in BN:FEC (1:1)</tspan></text>
</svg>
</body>
</html>
